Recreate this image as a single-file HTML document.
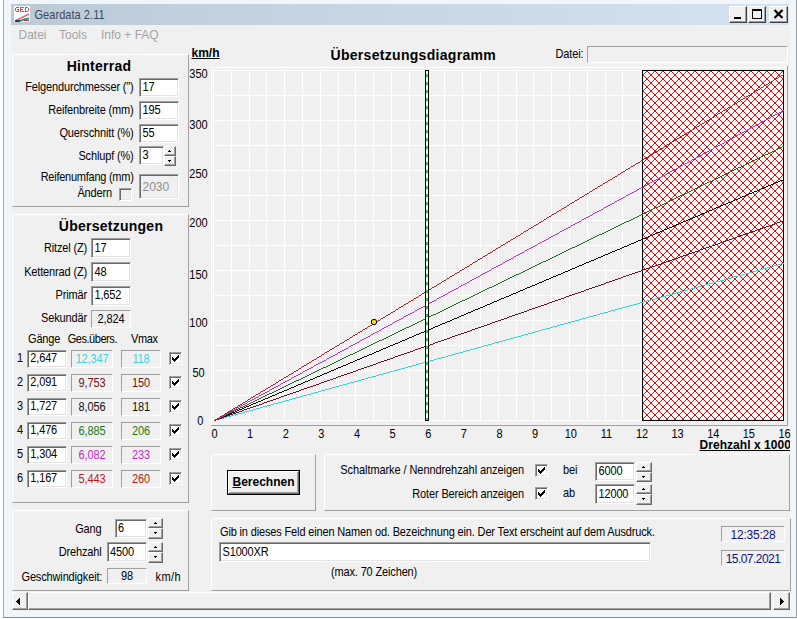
<!DOCTYPE html><html><head><meta charset="utf-8"><style>
html,body{margin:0;padding:0}
body{width:797px;height:619px;overflow:hidden;position:relative;background:#fcfdfe;font-family:'Liberation Sans', sans-serif}
</style></head><body>
<div style="position:absolute;left:3px;top:0px;width:794px;height:618px;background:#f1f6fb;box-sizing:border-box;border-left:1px solid #a8acb0;border-right:1px solid #9aa0a6;border-bottom:1px solid #8a8e92"></div>
<div style="position:absolute;left:11px;top:4px;width:778px;height:21px;background:linear-gradient(to right,#bccad8,#c9d7e5 50%,#d5e3f1)"></div>
<svg style="position:absolute;left:14px;top:6px" width="16" height="16" shape-rendering="crispEdges">
<rect width="16" height="16" fill="#fbfbfb"/>
<g fill="#cc5555"><rect x="2" y="1" width="1" height="1"/><rect x="3" y="1" width="1" height="1"/><rect x="4" y="1" width="1" height="1"/><rect x="1" y="2" width="1" height="1"/><rect x="1" y="3" width="1" height="1"/><rect x="3" y="3" width="1" height="1"/><rect x="4" y="3" width="1" height="1"/><rect x="1" y="4" width="1" height="1"/><rect x="4" y="4" width="1" height="1"/><rect x="2" y="5" width="1" height="1"/><rect x="3" y="5" width="1" height="1"/><rect x="4" y="5" width="1" height="1"/><rect x="6" y="1" width="1" height="1"/><rect x="7" y="1" width="1" height="1"/><rect x="8" y="1" width="1" height="1"/><rect x="9" y="1" width="1" height="1"/><rect x="6" y="2" width="1" height="1"/><rect x="6" y="3" width="1" height="1"/><rect x="7" y="3" width="1" height="1"/><rect x="8" y="3" width="1" height="1"/><rect x="6" y="4" width="1" height="1"/><rect x="6" y="5" width="1" height="1"/><rect x="7" y="5" width="1" height="1"/><rect x="8" y="5" width="1" height="1"/><rect x="9" y="5" width="1" height="1"/><rect x="11" y="1" width="1" height="1"/><rect x="12" y="1" width="1" height="1"/><rect x="13" y="1" width="1" height="1"/><rect x="11" y="2" width="1" height="1"/><rect x="14" y="2" width="1" height="1"/><rect x="11" y="3" width="1" height="1"/><rect x="14" y="3" width="1" height="1"/><rect x="11" y="4" width="1" height="1"/><rect x="14" y="4" width="1" height="1"/><rect x="11" y="5" width="1" height="1"/><rect x="12" y="5" width="1" height="1"/><rect x="13" y="5" width="1" height="1"/></g>
<g shape-rendering="auto"><path d="M2 14.5 L15 8" stroke="#e06a8a" stroke-width="1.6" fill="none"/>
<path d="M6 15 Q10 13 15 12.5" stroke="#3c8a5c" stroke-width="1.8" fill="none"/>
<path d="M1 15 L6 15" stroke="#111" stroke-width="1.6"/>
<path d="M10 14.5 L15 14.5" stroke="#a04858" stroke-width="1.2"/></g>
</svg>
<div style="position:absolute;left:34.5px;top:9.99px;font:11px 'Liberation Sans', sans-serif;line-height:11px;color:#3b4858;letter-spacing:0.05px;white-space:nowrap;transform:scaleY(1.08);transform-origin:0 9.31px;">Geardata 2.11</div>
<div style="position:absolute;left:729px;top:6px;width:18px;height:17px;background:#f0f0f0;box-sizing:border-box;border-top:1px solid #fff;border-left:1px solid #fff;border-bottom:1px solid #404040;border-right:1px solid #404040;box-shadow:inset -1px -1px 0 #a0a0a0"></div>
<div style="position:absolute;left:748px;top:6px;width:18px;height:17px;background:#f0f0f0;box-sizing:border-box;border-top:1px solid #fff;border-left:1px solid #fff;border-bottom:1px solid #404040;border-right:1px solid #404040;box-shadow:inset -1px -1px 0 #a0a0a0"></div>
<div style="position:absolute;left:769px;top:6px;width:19px;height:17px;background:#f0f0f0;box-sizing:border-box;border-top:1px solid #fff;border-left:1px solid #fff;border-bottom:1px solid #404040;border-right:1px solid #404040;box-shadow:inset -1px -1px 0 #a0a0a0"></div>
<div style="position:absolute;left:734px;top:17px;width:7px;height:2px;background:#000"></div>
<div style="position:absolute;left:752px;top:9px;width:10px;height:10px;box-sizing:border-box;border:1px solid #000;border-top-width:2px"></div>
<svg style="position:absolute;left:773px;top:9px" width="11" height="10"><path d="M1.5 1 L9.5 9 M9.5 1 L1.5 9" stroke="#000" stroke-width="2.2"/></svg>
<div style="position:absolute;left:11px;top:25px;width:779px;height:586px;background:#f0f0f0"></div>
<div style="position:absolute;left:18.5px;top:28.64px;font:12px 'Liberation Sans', sans-serif;line-height:12px;color:#a3a3a3;letter-spacing:0px;white-space:nowrap;">Datei</div>
<div style="position:absolute;left:59px;top:28.64px;font:12px 'Liberation Sans', sans-serif;line-height:12px;color:#a3a3a3;letter-spacing:0px;white-space:nowrap;">Tools</div>
<div style="position:absolute;left:101px;top:28.64px;font:12px 'Liberation Sans', sans-serif;line-height:12px;color:#a3a3a3;letter-spacing:0px;white-space:nowrap;">Info + FAQ</div>
<div style="position:absolute;left:12px;top:54px;width:177px;height:153px;background:#f0f0f0;box-sizing:border-box;border-top:1px solid #fff;border-left:1px solid #fff;border-bottom:1px solid #a0a0a0;border-right:1px solid #a0a0a0"></div>
<div style="position:absolute;left:-101px;width:400px;text-align:center;top:58.85px;font:bold 14px 'Liberation Sans', sans-serif;line-height:14px;color:#000;letter-spacing:0.25px;white-space:nowrap;">Hinterrad</div>
<div style="position:absolute;right:663.4px;top:82.19px;font:11px 'Liberation Sans', sans-serif;line-height:11px;color:#000;letter-spacing:-0.15px;white-space:nowrap;transform:scaleY(1.1);transform-origin:0 9.31px;">Felgendurchmesser (&quot;)</div>
<div style="position:absolute;left:139px;top:78px;width:40px;height:19px;background:#fff;box-sizing:border-box;border-top:1px solid #a0a0a0;border-left:1px solid #a0a0a0;border-bottom:1px solid #fff;border-right:1px solid #fff;box-shadow:inset 1px 1px 0 #696969,inset -1px -1px 0 #e3e3e3"></div>
<div style="position:absolute;left:142.5px;top:82.19px;font:11px 'Liberation Sans', sans-serif;line-height:11px;color:#000;letter-spacing:-0.15px;white-space:nowrap;transform:scaleY(1.1);transform-origin:0 9.31px;">17</div>
<div style="position:absolute;right:663.4px;top:105.19px;font:11px 'Liberation Sans', sans-serif;line-height:11px;color:#000;letter-spacing:-0.15px;white-space:nowrap;transform:scaleY(1.1);transform-origin:0 9.31px;">Reifenbreite (mm)</div>
<div style="position:absolute;left:139px;top:101px;width:40px;height:19px;background:#fff;box-sizing:border-box;border-top:1px solid #a0a0a0;border-left:1px solid #a0a0a0;border-bottom:1px solid #fff;border-right:1px solid #fff;box-shadow:inset 1px 1px 0 #696969,inset -1px -1px 0 #e3e3e3"></div>
<div style="position:absolute;left:142.5px;top:105.19px;font:11px 'Liberation Sans', sans-serif;line-height:11px;color:#000;letter-spacing:-0.15px;white-space:nowrap;transform:scaleY(1.1);transform-origin:0 9.31px;">195</div>
<div style="position:absolute;right:663.4px;top:128.19px;font:11px 'Liberation Sans', sans-serif;line-height:11px;color:#000;letter-spacing:-0.15px;white-space:nowrap;transform:scaleY(1.1);transform-origin:0 9.31px;">Querschnitt (%)</div>
<div style="position:absolute;left:139px;top:124px;width:40px;height:19px;background:#fff;box-sizing:border-box;border-top:1px solid #a0a0a0;border-left:1px solid #a0a0a0;border-bottom:1px solid #fff;border-right:1px solid #fff;box-shadow:inset 1px 1px 0 #696969,inset -1px -1px 0 #e3e3e3"></div>
<div style="position:absolute;left:142.5px;top:128.19px;font:11px 'Liberation Sans', sans-serif;line-height:11px;color:#000;letter-spacing:-0.15px;white-space:nowrap;transform:scaleY(1.1);transform-origin:0 9.31px;">55</div>
<div style="position:absolute;right:663.4px;top:151.49px;font:11px 'Liberation Sans', sans-serif;line-height:11px;color:#000;letter-spacing:-0.15px;white-space:nowrap;transform:scaleY(1.1);transform-origin:0 9.31px;">Schlupf (%)</div>
<div style="position:absolute;left:139px;top:146px;width:25px;height:19px;background:#fff;box-sizing:border-box;border-top:1px solid #a0a0a0;border-left:1px solid #a0a0a0;border-bottom:1px solid #fff;border-right:1px solid #fff;box-shadow:inset 1px 1px 0 #696969,inset -1px -1px 0 #e3e3e3"></div>
<div style="position:absolute;left:142.5px;top:150.19px;font:11px 'Liberation Sans', sans-serif;line-height:11px;color:#000;letter-spacing:-0.15px;white-space:nowrap;transform:scaleY(1.1);transform-origin:0 9.31px;">3</div>
<div style="position:absolute;left:164px;top:146px;width:12px;height:10px;background:#f0f0f0;box-sizing:border-box;border-top:1px solid #fff;border-left:1px solid #fff;border-bottom:1px solid #696969;border-right:1px solid #696969;box-shadow:inset -1px -1px 0 #a0a0a0"></div>
<div style="position:absolute;left:164px;top:156px;width:12px;height:10px;background:#f0f0f0;box-sizing:border-box;border-top:1px solid #fff;border-left:1px solid #fff;border-bottom:1px solid #696969;border-right:1px solid #696969;box-shadow:inset -1px -1px 0 #a0a0a0"></div>
<svg style="position:absolute;left:168px;top:150px" width="3" height="2" shape-rendering="crispEdges"><path d="M1 0h1v1h1v1H0V1h1z" fill="#000"/></svg>
<svg style="position:absolute;left:168px;top:160px" width="3" height="2" shape-rendering="crispEdges"><path d="M0 0h3v1h-1v1H1V1H0z" fill="#000"/></svg>
<div style="position:absolute;right:663.4px;top:172.49px;font:11px 'Liberation Sans', sans-serif;line-height:11px;color:#000;letter-spacing:-0.25px;white-space:nowrap;transform:scaleY(1.1);transform-origin:0 9.31px;">Reifenumfang (mm)</div>
<div style="position:absolute;right:685px;top:188.39px;font:11px 'Liberation Sans', sans-serif;line-height:11px;color:#000;letter-spacing:-0.15px;white-space:nowrap;transform:scaleY(1.1);transform-origin:0 9.31px;">&Auml;ndern</div>
<div style="position:absolute;left:119px;top:188px;width:13px;height:13px;background:#f0f0f0;box-sizing:border-box;border-top:1px solid #a0a0a0;border-left:1px solid #a0a0a0;border-bottom:1px solid #fff;border-right:1px solid #fff;box-shadow:inset 1px 1px 0 #696969,inset -1px -1px 0 #e3e3e3"></div>
<div style="position:absolute;left:139px;top:174px;width:40px;height:25px;background:#f0f0f0;box-sizing:border-box;border-top:1px solid #a0a0a0;border-left:1px solid #a0a0a0;border-bottom:1px solid #fff;border-right:1px solid #fff;box-shadow:inset 1px 1px 0 #696969,inset -1px -1px 0 #e3e3e3"></div>
<div style="position:absolute;left:142.5px;top:180.84px;font:12px 'Liberation Sans', sans-serif;line-height:12px;color:#8d8d8d;letter-spacing:0px;white-space:nowrap;">2030</div>
<div style="position:absolute;left:12px;top:214px;width:177px;height:289px;background:#f0f0f0;box-sizing:border-box;border-top:1px solid #fff;border-left:1px solid #fff;border-bottom:1px solid #a0a0a0;border-right:1px solid #a0a0a0"></div>
<div style="position:absolute;left:-89px;width:400px;text-align:center;top:218.85px;font:bold 14px 'Liberation Sans', sans-serif;line-height:14px;color:#000;letter-spacing:0.25px;white-space:nowrap;">&Uuml;bersetzungen</div>
<div style="position:absolute;right:710px;top:243.19px;font:11px 'Liberation Sans', sans-serif;line-height:11px;color:#000;letter-spacing:-0.15px;white-space:nowrap;transform:scaleY(1.1);transform-origin:0 9.31px;">Ritzel (Z)</div>
<div style="position:absolute;left:91px;top:238px;width:40px;height:20px;background:#fff;box-sizing:border-box;border-top:1px solid #a0a0a0;border-left:1px solid #a0a0a0;border-bottom:1px solid #fff;border-right:1px solid #fff;box-shadow:inset 1px 1px 0 #696969,inset -1px -1px 0 #e3e3e3"></div>
<div style="position:absolute;left:94.5px;top:243.19px;font:11px 'Liberation Sans', sans-serif;line-height:11px;color:#000;letter-spacing:-0.15px;white-space:nowrap;transform:scaleY(1.1);transform-origin:0 9.31px;">17</div>
<div style="position:absolute;right:710px;top:267.19px;font:11px 'Liberation Sans', sans-serif;line-height:11px;color:#000;letter-spacing:-0.15px;white-space:nowrap;transform:scaleY(1.1);transform-origin:0 9.31px;">Kettenrad (Z)</div>
<div style="position:absolute;left:91px;top:262px;width:40px;height:20px;background:#fff;box-sizing:border-box;border-top:1px solid #a0a0a0;border-left:1px solid #a0a0a0;border-bottom:1px solid #fff;border-right:1px solid #fff;box-shadow:inset 1px 1px 0 #696969,inset -1px -1px 0 #e3e3e3"></div>
<div style="position:absolute;left:94.5px;top:267.19px;font:11px 'Liberation Sans', sans-serif;line-height:11px;color:#000;letter-spacing:-0.15px;white-space:nowrap;transform:scaleY(1.1);transform-origin:0 9.31px;">48</div>
<div style="position:absolute;right:710px;top:290.19px;font:11px 'Liberation Sans', sans-serif;line-height:11px;color:#000;letter-spacing:-0.15px;white-space:nowrap;transform:scaleY(1.1);transform-origin:0 9.31px;">Prim&auml;r</div>
<div style="position:absolute;left:91px;top:286px;width:40px;height:20px;background:#fff;box-sizing:border-box;border-top:1px solid #a0a0a0;border-left:1px solid #a0a0a0;border-bottom:1px solid #fff;border-right:1px solid #fff;box-shadow:inset 1px 1px 0 #696969,inset -1px -1px 0 #e3e3e3"></div>
<div style="position:absolute;left:94.5px;top:290.19px;font:11px 'Liberation Sans', sans-serif;line-height:11px;color:#000;letter-spacing:-0.15px;white-space:nowrap;transform:scaleY(1.1);transform-origin:0 9.31px;">1,652</div>
<div style="position:absolute;right:710px;top:312.69px;font:11px 'Liberation Sans', sans-serif;line-height:11px;color:#000;letter-spacing:-0.15px;white-space:nowrap;transform:scaleY(1.1);transform-origin:0 9.31px;">Sekund&auml;r</div>
<div style="position:absolute;left:91px;top:310px;width:40px;height:18px;background:#f0f0f0;box-sizing:border-box;border-top:1px solid #a0a0a0;border-left:1px solid #a0a0a0;border-bottom:1px solid #fff;border-right:1px solid #fff"></div>
<div style="position:absolute;left:-89px;width:400px;text-align:center;top:313.69px;font:11px 'Liberation Sans', sans-serif;line-height:11px;color:#000;letter-spacing:-0.15px;white-space:nowrap;transform:scaleY(1.1);transform-origin:0 9.31px;">2,824</div>
<div style="position:absolute;left:28px;top:333.69px;font:11px 'Liberation Sans', sans-serif;line-height:11px;color:#000;letter-spacing:-0.15px;white-space:nowrap;transform:scaleY(1.1);transform-origin:0 9.31px;">G&auml;nge</div>
<div style="position:absolute;left:67.7px;top:333.69px;font:11px 'Liberation Sans', sans-serif;line-height:11px;color:#000;letter-spacing:-0.45px;white-space:nowrap;transform:scaleY(1.1);transform-origin:0 9.31px;">Ges.&uuml;bers.</div>
<div style="position:absolute;left:131px;top:333.69px;font:11px 'Liberation Sans', sans-serif;line-height:11px;color:#000;letter-spacing:-0.35px;white-space:nowrap;transform:scaleY(1.1);transform-origin:0 9.31px;">Vmax</div>
<div style="position:absolute;right:774px;top:353.19px;font:11px 'Liberation Sans', sans-serif;line-height:11px;color:#000;letter-spacing:0px;white-space:nowrap;transform:scaleY(1.1);transform-origin:0 9.31px;">1</div>
<div style="position:absolute;left:27px;top:350px;width:40px;height:18px;background:#fff;box-sizing:border-box;border-top:1px solid #a0a0a0;border-left:1px solid #a0a0a0;border-bottom:1px solid #fff;border-right:1px solid #fff;box-shadow:inset 1px 1px 0 #696969,inset -1px -1px 0 #e3e3e3"></div>
<div style="position:absolute;left:30.3px;top:353.19px;font:11px 'Liberation Sans', sans-serif;line-height:11px;color:#000;letter-spacing:-0.15px;white-space:nowrap;transform:scaleY(1.1);transform-origin:0 9.31px;">2,647</div>
<div style="position:absolute;left:71px;top:350px;width:42px;height:18px;background:#f0f0f0;box-sizing:border-box;border-top:1px solid #a0a0a0;border-left:1px solid #a0a0a0;border-bottom:1px solid #fff;border-right:1px solid #fff"></div>
<div style="position:absolute;left:-108px;width:400px;text-align:center;top:353.69px;font:11px 'Liberation Sans', sans-serif;line-height:11px;color:#3cd6dc;letter-spacing:-0.15px;white-space:nowrap;transform:scaleY(1.1);transform-origin:0 9.31px;">12,347</div>
<div style="position:absolute;left:121px;top:350px;width:40px;height:18px;background:#f0f0f0;box-sizing:border-box;border-top:1px solid #a0a0a0;border-left:1px solid #a0a0a0;border-bottom:1px solid #fff;border-right:1px solid #fff"></div>
<div style="position:absolute;left:-59px;width:400px;text-align:center;top:353.69px;font:11px 'Liberation Sans', sans-serif;line-height:11px;color:#3cd6dc;letter-spacing:-0.15px;white-space:nowrap;transform:scaleY(1.1);transform-origin:0 9.31px;">118</div>
<div style="position:absolute;left:169px;top:352px;width:13px;height:13px;background:#fff;box-sizing:border-box;border-top:1px solid #a0a0a0;border-left:1px solid #a0a0a0;border-bottom:1px solid #fff;border-right:1px solid #fff;box-shadow:inset 1px 1px 0 #696969,inset -1px -1px 0 #e3e3e3"></div>
<svg style="position:absolute;left:172px;top:355px" width="7" height="7" fill="#000" shape-rendering="crispEdges"><rect x="6" y="0" width="1" height="1"/><rect x="5" y="1" width="1" height="1"/><rect x="6" y="1" width="1" height="1"/><rect x="0" y="2" width="1" height="1"/><rect x="4" y="2" width="1" height="1"/><rect x="5" y="2" width="1" height="1"/><rect x="6" y="2" width="1" height="1"/><rect x="0" y="3" width="1" height="1"/><rect x="1" y="3" width="1" height="1"/><rect x="3" y="3" width="1" height="1"/><rect x="4" y="3" width="1" height="1"/><rect x="5" y="3" width="1" height="1"/><rect x="0" y="4" width="1" height="1"/><rect x="1" y="4" width="1" height="1"/><rect x="2" y="4" width="1" height="1"/><rect x="3" y="4" width="1" height="1"/><rect x="4" y="4" width="1" height="1"/><rect x="1" y="5" width="1" height="1"/><rect x="2" y="5" width="1" height="1"/><rect x="3" y="5" width="1" height="1"/><rect x="2" y="6" width="1" height="1"/></svg>
<div style="position:absolute;right:774px;top:377.19px;font:11px 'Liberation Sans', sans-serif;line-height:11px;color:#000;letter-spacing:0px;white-space:nowrap;transform:scaleY(1.1);transform-origin:0 9.31px;">2</div>
<div style="position:absolute;left:27px;top:374px;width:40px;height:18px;background:#fff;box-sizing:border-box;border-top:1px solid #a0a0a0;border-left:1px solid #a0a0a0;border-bottom:1px solid #fff;border-right:1px solid #fff;box-shadow:inset 1px 1px 0 #696969,inset -1px -1px 0 #e3e3e3"></div>
<div style="position:absolute;left:30.3px;top:377.19px;font:11px 'Liberation Sans', sans-serif;line-height:11px;color:#000;letter-spacing:-0.15px;white-space:nowrap;transform:scaleY(1.1);transform-origin:0 9.31px;">2,091</div>
<div style="position:absolute;left:71px;top:374px;width:42px;height:18px;background:#f0f0f0;box-sizing:border-box;border-top:1px solid #a0a0a0;border-left:1px solid #a0a0a0;border-bottom:1px solid #fff;border-right:1px solid #fff"></div>
<div style="position:absolute;left:-108px;width:400px;text-align:center;top:377.69px;font:11px 'Liberation Sans', sans-serif;line-height:11px;color:#6e1414;letter-spacing:-0.15px;white-space:nowrap;transform:scaleY(1.1);transform-origin:0 9.31px;">9,753</div>
<div style="position:absolute;left:121px;top:374px;width:40px;height:18px;background:#f0f0f0;box-sizing:border-box;border-top:1px solid #a0a0a0;border-left:1px solid #a0a0a0;border-bottom:1px solid #fff;border-right:1px solid #fff"></div>
<div style="position:absolute;left:-59px;width:400px;text-align:center;top:377.69px;font:11px 'Liberation Sans', sans-serif;line-height:11px;color:#6e1414;letter-spacing:-0.15px;white-space:nowrap;transform:scaleY(1.1);transform-origin:0 9.31px;">150</div>
<div style="position:absolute;left:169px;top:376px;width:13px;height:13px;background:#fff;box-sizing:border-box;border-top:1px solid #a0a0a0;border-left:1px solid #a0a0a0;border-bottom:1px solid #fff;border-right:1px solid #fff;box-shadow:inset 1px 1px 0 #696969,inset -1px -1px 0 #e3e3e3"></div>
<svg style="position:absolute;left:172px;top:379px" width="7" height="7" fill="#000" shape-rendering="crispEdges"><rect x="6" y="0" width="1" height="1"/><rect x="5" y="1" width="1" height="1"/><rect x="6" y="1" width="1" height="1"/><rect x="0" y="2" width="1" height="1"/><rect x="4" y="2" width="1" height="1"/><rect x="5" y="2" width="1" height="1"/><rect x="6" y="2" width="1" height="1"/><rect x="0" y="3" width="1" height="1"/><rect x="1" y="3" width="1" height="1"/><rect x="3" y="3" width="1" height="1"/><rect x="4" y="3" width="1" height="1"/><rect x="5" y="3" width="1" height="1"/><rect x="0" y="4" width="1" height="1"/><rect x="1" y="4" width="1" height="1"/><rect x="2" y="4" width="1" height="1"/><rect x="3" y="4" width="1" height="1"/><rect x="4" y="4" width="1" height="1"/><rect x="1" y="5" width="1" height="1"/><rect x="2" y="5" width="1" height="1"/><rect x="3" y="5" width="1" height="1"/><rect x="2" y="6" width="1" height="1"/></svg>
<div style="position:absolute;right:774px;top:401.19px;font:11px 'Liberation Sans', sans-serif;line-height:11px;color:#000;letter-spacing:0px;white-space:nowrap;transform:scaleY(1.1);transform-origin:0 9.31px;">3</div>
<div style="position:absolute;left:27px;top:398px;width:40px;height:18px;background:#fff;box-sizing:border-box;border-top:1px solid #a0a0a0;border-left:1px solid #a0a0a0;border-bottom:1px solid #fff;border-right:1px solid #fff;box-shadow:inset 1px 1px 0 #696969,inset -1px -1px 0 #e3e3e3"></div>
<div style="position:absolute;left:30.3px;top:401.19px;font:11px 'Liberation Sans', sans-serif;line-height:11px;color:#000;letter-spacing:-0.15px;white-space:nowrap;transform:scaleY(1.1);transform-origin:0 9.31px;">1,727</div>
<div style="position:absolute;left:71px;top:398px;width:42px;height:18px;background:#f0f0f0;box-sizing:border-box;border-top:1px solid #a0a0a0;border-left:1px solid #a0a0a0;border-bottom:1px solid #fff;border-right:1px solid #fff"></div>
<div style="position:absolute;left:-108px;width:400px;text-align:center;top:401.69px;font:11px 'Liberation Sans', sans-serif;line-height:11px;color:#141414;letter-spacing:-0.15px;white-space:nowrap;transform:scaleY(1.1);transform-origin:0 9.31px;">8,056</div>
<div style="position:absolute;left:121px;top:398px;width:40px;height:18px;background:#f0f0f0;box-sizing:border-box;border-top:1px solid #a0a0a0;border-left:1px solid #a0a0a0;border-bottom:1px solid #fff;border-right:1px solid #fff"></div>
<div style="position:absolute;left:-59px;width:400px;text-align:center;top:401.69px;font:11px 'Liberation Sans', sans-serif;line-height:11px;color:#141414;letter-spacing:-0.15px;white-space:nowrap;transform:scaleY(1.1);transform-origin:0 9.31px;">181</div>
<div style="position:absolute;left:169px;top:400px;width:13px;height:13px;background:#fff;box-sizing:border-box;border-top:1px solid #a0a0a0;border-left:1px solid #a0a0a0;border-bottom:1px solid #fff;border-right:1px solid #fff;box-shadow:inset 1px 1px 0 #696969,inset -1px -1px 0 #e3e3e3"></div>
<svg style="position:absolute;left:172px;top:403px" width="7" height="7" fill="#000" shape-rendering="crispEdges"><rect x="6" y="0" width="1" height="1"/><rect x="5" y="1" width="1" height="1"/><rect x="6" y="1" width="1" height="1"/><rect x="0" y="2" width="1" height="1"/><rect x="4" y="2" width="1" height="1"/><rect x="5" y="2" width="1" height="1"/><rect x="6" y="2" width="1" height="1"/><rect x="0" y="3" width="1" height="1"/><rect x="1" y="3" width="1" height="1"/><rect x="3" y="3" width="1" height="1"/><rect x="4" y="3" width="1" height="1"/><rect x="5" y="3" width="1" height="1"/><rect x="0" y="4" width="1" height="1"/><rect x="1" y="4" width="1" height="1"/><rect x="2" y="4" width="1" height="1"/><rect x="3" y="4" width="1" height="1"/><rect x="4" y="4" width="1" height="1"/><rect x="1" y="5" width="1" height="1"/><rect x="2" y="5" width="1" height="1"/><rect x="3" y="5" width="1" height="1"/><rect x="2" y="6" width="1" height="1"/></svg>
<div style="position:absolute;right:774px;top:425.19px;font:11px 'Liberation Sans', sans-serif;line-height:11px;color:#000;letter-spacing:0px;white-space:nowrap;transform:scaleY(1.1);transform-origin:0 9.31px;">4</div>
<div style="position:absolute;left:27px;top:422px;width:40px;height:18px;background:#fff;box-sizing:border-box;border-top:1px solid #a0a0a0;border-left:1px solid #a0a0a0;border-bottom:1px solid #fff;border-right:1px solid #fff;box-shadow:inset 1px 1px 0 #696969,inset -1px -1px 0 #e3e3e3"></div>
<div style="position:absolute;left:30.3px;top:425.19px;font:11px 'Liberation Sans', sans-serif;line-height:11px;color:#000;letter-spacing:-0.15px;white-space:nowrap;transform:scaleY(1.1);transform-origin:0 9.31px;">1,476</div>
<div style="position:absolute;left:71px;top:422px;width:42px;height:18px;background:#f0f0f0;box-sizing:border-box;border-top:1px solid #a0a0a0;border-left:1px solid #a0a0a0;border-bottom:1px solid #fff;border-right:1px solid #fff"></div>
<div style="position:absolute;left:-108px;width:400px;text-align:center;top:425.69px;font:11px 'Liberation Sans', sans-serif;line-height:11px;color:#1a7a1a;letter-spacing:-0.15px;white-space:nowrap;transform:scaleY(1.1);transform-origin:0 9.31px;">6,885</div>
<div style="position:absolute;left:121px;top:422px;width:40px;height:18px;background:#f0f0f0;box-sizing:border-box;border-top:1px solid #a0a0a0;border-left:1px solid #a0a0a0;border-bottom:1px solid #fff;border-right:1px solid #fff"></div>
<div style="position:absolute;left:-59px;width:400px;text-align:center;top:425.69px;font:11px 'Liberation Sans', sans-serif;line-height:11px;color:#1a7a1a;letter-spacing:-0.15px;white-space:nowrap;transform:scaleY(1.1);transform-origin:0 9.31px;">206</div>
<div style="position:absolute;left:169px;top:424px;width:13px;height:13px;background:#fff;box-sizing:border-box;border-top:1px solid #a0a0a0;border-left:1px solid #a0a0a0;border-bottom:1px solid #fff;border-right:1px solid #fff;box-shadow:inset 1px 1px 0 #696969,inset -1px -1px 0 #e3e3e3"></div>
<svg style="position:absolute;left:172px;top:427px" width="7" height="7" fill="#000" shape-rendering="crispEdges"><rect x="6" y="0" width="1" height="1"/><rect x="5" y="1" width="1" height="1"/><rect x="6" y="1" width="1" height="1"/><rect x="0" y="2" width="1" height="1"/><rect x="4" y="2" width="1" height="1"/><rect x="5" y="2" width="1" height="1"/><rect x="6" y="2" width="1" height="1"/><rect x="0" y="3" width="1" height="1"/><rect x="1" y="3" width="1" height="1"/><rect x="3" y="3" width="1" height="1"/><rect x="4" y="3" width="1" height="1"/><rect x="5" y="3" width="1" height="1"/><rect x="0" y="4" width="1" height="1"/><rect x="1" y="4" width="1" height="1"/><rect x="2" y="4" width="1" height="1"/><rect x="3" y="4" width="1" height="1"/><rect x="4" y="4" width="1" height="1"/><rect x="1" y="5" width="1" height="1"/><rect x="2" y="5" width="1" height="1"/><rect x="3" y="5" width="1" height="1"/><rect x="2" y="6" width="1" height="1"/></svg>
<div style="position:absolute;right:774px;top:449.19px;font:11px 'Liberation Sans', sans-serif;line-height:11px;color:#000;letter-spacing:0px;white-space:nowrap;transform:scaleY(1.1);transform-origin:0 9.31px;">5</div>
<div style="position:absolute;left:27px;top:446px;width:40px;height:18px;background:#fff;box-sizing:border-box;border-top:1px solid #a0a0a0;border-left:1px solid #a0a0a0;border-bottom:1px solid #fff;border-right:1px solid #fff;box-shadow:inset 1px 1px 0 #696969,inset -1px -1px 0 #e3e3e3"></div>
<div style="position:absolute;left:30.3px;top:449.19px;font:11px 'Liberation Sans', sans-serif;line-height:11px;color:#000;letter-spacing:-0.15px;white-space:nowrap;transform:scaleY(1.1);transform-origin:0 9.31px;">1,304</div>
<div style="position:absolute;left:71px;top:446px;width:42px;height:18px;background:#f0f0f0;box-sizing:border-box;border-top:1px solid #a0a0a0;border-left:1px solid #a0a0a0;border-bottom:1px solid #fff;border-right:1px solid #fff"></div>
<div style="position:absolute;left:-108px;width:400px;text-align:center;top:449.69px;font:11px 'Liberation Sans', sans-serif;line-height:11px;color:#c42cc8;letter-spacing:-0.15px;white-space:nowrap;transform:scaleY(1.1);transform-origin:0 9.31px;">6,082</div>
<div style="position:absolute;left:121px;top:446px;width:40px;height:18px;background:#f0f0f0;box-sizing:border-box;border-top:1px solid #a0a0a0;border-left:1px solid #a0a0a0;border-bottom:1px solid #fff;border-right:1px solid #fff"></div>
<div style="position:absolute;left:-59px;width:400px;text-align:center;top:449.69px;font:11px 'Liberation Sans', sans-serif;line-height:11px;color:#c42cc8;letter-spacing:-0.15px;white-space:nowrap;transform:scaleY(1.1);transform-origin:0 9.31px;">233</div>
<div style="position:absolute;left:169px;top:448px;width:13px;height:13px;background:#fff;box-sizing:border-box;border-top:1px solid #a0a0a0;border-left:1px solid #a0a0a0;border-bottom:1px solid #fff;border-right:1px solid #fff;box-shadow:inset 1px 1px 0 #696969,inset -1px -1px 0 #e3e3e3"></div>
<svg style="position:absolute;left:172px;top:451px" width="7" height="7" fill="#000" shape-rendering="crispEdges"><rect x="6" y="0" width="1" height="1"/><rect x="5" y="1" width="1" height="1"/><rect x="6" y="1" width="1" height="1"/><rect x="0" y="2" width="1" height="1"/><rect x="4" y="2" width="1" height="1"/><rect x="5" y="2" width="1" height="1"/><rect x="6" y="2" width="1" height="1"/><rect x="0" y="3" width="1" height="1"/><rect x="1" y="3" width="1" height="1"/><rect x="3" y="3" width="1" height="1"/><rect x="4" y="3" width="1" height="1"/><rect x="5" y="3" width="1" height="1"/><rect x="0" y="4" width="1" height="1"/><rect x="1" y="4" width="1" height="1"/><rect x="2" y="4" width="1" height="1"/><rect x="3" y="4" width="1" height="1"/><rect x="4" y="4" width="1" height="1"/><rect x="1" y="5" width="1" height="1"/><rect x="2" y="5" width="1" height="1"/><rect x="3" y="5" width="1" height="1"/><rect x="2" y="6" width="1" height="1"/></svg>
<div style="position:absolute;right:774px;top:473.19px;font:11px 'Liberation Sans', sans-serif;line-height:11px;color:#000;letter-spacing:0px;white-space:nowrap;transform:scaleY(1.1);transform-origin:0 9.31px;">6</div>
<div style="position:absolute;left:27px;top:470px;width:40px;height:18px;background:#fff;box-sizing:border-box;border-top:1px solid #a0a0a0;border-left:1px solid #a0a0a0;border-bottom:1px solid #fff;border-right:1px solid #fff;box-shadow:inset 1px 1px 0 #696969,inset -1px -1px 0 #e3e3e3"></div>
<div style="position:absolute;left:30.3px;top:473.19px;font:11px 'Liberation Sans', sans-serif;line-height:11px;color:#000;letter-spacing:-0.15px;white-space:nowrap;transform:scaleY(1.1);transform-origin:0 9.31px;">1,167</div>
<div style="position:absolute;left:71px;top:470px;width:42px;height:18px;background:#f0f0f0;box-sizing:border-box;border-top:1px solid #a0a0a0;border-left:1px solid #a0a0a0;border-bottom:1px solid #fff;border-right:1px solid #fff"></div>
<div style="position:absolute;left:-108px;width:400px;text-align:center;top:473.69px;font:11px 'Liberation Sans', sans-serif;line-height:11px;color:#c01818;letter-spacing:-0.15px;white-space:nowrap;transform:scaleY(1.1);transform-origin:0 9.31px;">5,443</div>
<div style="position:absolute;left:121px;top:470px;width:40px;height:18px;background:#f0f0f0;box-sizing:border-box;border-top:1px solid #a0a0a0;border-left:1px solid #a0a0a0;border-bottom:1px solid #fff;border-right:1px solid #fff"></div>
<div style="position:absolute;left:-59px;width:400px;text-align:center;top:473.69px;font:11px 'Liberation Sans', sans-serif;line-height:11px;color:#c01818;letter-spacing:-0.15px;white-space:nowrap;transform:scaleY(1.1);transform-origin:0 9.31px;">260</div>
<div style="position:absolute;left:169px;top:472px;width:13px;height:13px;background:#fff;box-sizing:border-box;border-top:1px solid #a0a0a0;border-left:1px solid #a0a0a0;border-bottom:1px solid #fff;border-right:1px solid #fff;box-shadow:inset 1px 1px 0 #696969,inset -1px -1px 0 #e3e3e3"></div>
<svg style="position:absolute;left:172px;top:475px" width="7" height="7" fill="#000" shape-rendering="crispEdges"><rect x="6" y="0" width="1" height="1"/><rect x="5" y="1" width="1" height="1"/><rect x="6" y="1" width="1" height="1"/><rect x="0" y="2" width="1" height="1"/><rect x="4" y="2" width="1" height="1"/><rect x="5" y="2" width="1" height="1"/><rect x="6" y="2" width="1" height="1"/><rect x="0" y="3" width="1" height="1"/><rect x="1" y="3" width="1" height="1"/><rect x="3" y="3" width="1" height="1"/><rect x="4" y="3" width="1" height="1"/><rect x="5" y="3" width="1" height="1"/><rect x="0" y="4" width="1" height="1"/><rect x="1" y="4" width="1" height="1"/><rect x="2" y="4" width="1" height="1"/><rect x="3" y="4" width="1" height="1"/><rect x="4" y="4" width="1" height="1"/><rect x="1" y="5" width="1" height="1"/><rect x="2" y="5" width="1" height="1"/><rect x="3" y="5" width="1" height="1"/><rect x="2" y="6" width="1" height="1"/></svg>
<div style="position:absolute;left:12px;top:510px;width:177px;height:81px;background:#f0f0f0;box-sizing:border-box;border-top:1px solid #fff;border-left:1px solid #fff;border-bottom:1px solid #a0a0a0;border-right:1px solid #a0a0a0"></div>
<div style="position:absolute;right:695.5px;top:523.69px;font:11px 'Liberation Sans', sans-serif;line-height:11px;color:#000;letter-spacing:-0.15px;white-space:nowrap;transform:scaleY(1.1);transform-origin:0 9.31px;">Gang</div>
<div style="position:absolute;left:115px;top:519px;width:32px;height:19px;background:#fff;box-sizing:border-box;border-top:1px solid #a0a0a0;border-left:1px solid #a0a0a0;border-bottom:1px solid #fff;border-right:1px solid #fff;box-shadow:inset 1px 1px 0 #696969,inset -1px -1px 0 #e3e3e3"></div>
<div style="position:absolute;left:118px;top:523.19px;font:11px 'Liberation Sans', sans-serif;line-height:11px;color:#000;letter-spacing:-0.15px;white-space:nowrap;transform:scaleY(1.1);transform-origin:0 9.31px;">6</div>
<div style="position:absolute;left:148px;top:518px;width:15px;height:10px;background:#f0f0f0;box-sizing:border-box;border-top:1px solid #fff;border-left:1px solid #fff;border-bottom:1px solid #696969;border-right:1px solid #696969;box-shadow:inset -1px -1px 0 #a0a0a0"></div>
<div style="position:absolute;left:148px;top:528px;width:15px;height:11px;background:#f0f0f0;box-sizing:border-box;border-top:1px solid #fff;border-left:1px solid #fff;border-bottom:1px solid #696969;border-right:1px solid #696969;box-shadow:inset -1px -1px 0 #a0a0a0"></div>
<svg style="position:absolute;left:154px;top:522px" width="3" height="2" shape-rendering="crispEdges"><path d="M1 0h1v1h1v1H0V1h1z" fill="#000"/></svg>
<svg style="position:absolute;left:154px;top:532px" width="3" height="2" shape-rendering="crispEdges"><path d="M0 0h3v1h-1v1H1V1H0z" fill="#000"/></svg>
<div style="position:absolute;right:695.5px;top:546.69px;font:11px 'Liberation Sans', sans-serif;line-height:11px;color:#000;letter-spacing:-0.15px;white-space:nowrap;transform:scaleY(1.1);transform-origin:0 9.31px;">Drehzahl</div>
<div style="position:absolute;left:107px;top:542px;width:40px;height:20px;background:#fff;box-sizing:border-box;border-top:1px solid #a0a0a0;border-left:1px solid #a0a0a0;border-bottom:1px solid #fff;border-right:1px solid #fff;box-shadow:inset 1px 1px 0 #696969,inset -1px -1px 0 #e3e3e3"></div>
<div style="position:absolute;left:110px;top:546.69px;font:11px 'Liberation Sans', sans-serif;line-height:11px;color:#000;letter-spacing:-0.15px;white-space:nowrap;transform:scaleY(1.1);transform-origin:0 9.31px;">4500</div>
<div style="position:absolute;left:148px;top:542px;width:15px;height:10px;background:#f0f0f0;box-sizing:border-box;border-top:1px solid #fff;border-left:1px solid #fff;border-bottom:1px solid #696969;border-right:1px solid #696969;box-shadow:inset -1px -1px 0 #a0a0a0"></div>
<div style="position:absolute;left:148px;top:552px;width:15px;height:11px;background:#f0f0f0;box-sizing:border-box;border-top:1px solid #fff;border-left:1px solid #fff;border-bottom:1px solid #696969;border-right:1px solid #696969;box-shadow:inset -1px -1px 0 #a0a0a0"></div>
<svg style="position:absolute;left:154px;top:546px" width="3" height="2" shape-rendering="crispEdges"><path d="M1 0h1v1h1v1H0V1h1z" fill="#000"/></svg>
<svg style="position:absolute;left:154px;top:556px" width="3" height="2" shape-rendering="crispEdges"><path d="M0 0h3v1h-1v1H1V1H0z" fill="#000"/></svg>
<div style="position:absolute;left:21.5px;top:571.69px;font:11px 'Liberation Sans', sans-serif;line-height:11px;color:#000;letter-spacing:-0.15px;white-space:nowrap;transform:scaleY(1.1);transform-origin:0 9.31px;">Geschwindigkeit:</div>
<div style="position:absolute;left:107px;top:568px;width:40px;height:16px;background:#f0f0f0;box-sizing:border-box;border-top:1px solid #a0a0a0;border-left:1px solid #a0a0a0;border-bottom:1px solid #fff;border-right:1px solid #fff"></div>
<div style="position:absolute;left:-73px;width:400px;text-align:center;top:571.19px;font:11px 'Liberation Sans', sans-serif;line-height:11px;color:#000;letter-spacing:-0.15px;white-space:nowrap;transform:scaleY(1.1);transform-origin:0 9.31px;">98</div>
<div style="position:absolute;left:155.5px;top:572.19px;font:11px 'Liberation Sans', sans-serif;line-height:11px;color:#000;letter-spacing:0.45px;white-space:nowrap;transform:scaleY(1.1);transform-origin:0 9.31px;">km/h</div>
<div style="position:absolute;left:12px;top:592px;width:16px;height:18px;background:#f0f0f0;box-sizing:border-box;border-top:1px solid #fff;border-left:1px solid #fff;border-bottom:1px solid #696969;border-right:1px solid #696969;box-shadow:inset -1px -1px 0 #a0a0a0"></div>
<svg style="position:absolute;left:16px;top:598px" width="4" height="7" shape-rendering="crispEdges"><path d="M3 0h1v7h-1v-1h-1v-1h-1v-1h-1v-1h1v-1h1v-1h1z" fill="#000"/></svg>
<div style="position:absolute;left:28px;top:592px;width:743px;height:18px;background:#f0f0f0;box-sizing:border-box;border-top:1px solid #fff;border-left:1px solid #fff;border-bottom:1px solid #696969;border-right:1px solid #696969;box-shadow:inset -1px -1px 0 #a0a0a0"></div>
<div style="position:absolute;left:773px;top:592px;width:17px;height:18px;background:#f0f0f0;box-sizing:border-box;border-top:1px solid #fff;border-left:1px solid #fff;border-bottom:1px solid #696969;border-right:1px solid #696969;box-shadow:inset -1px -1px 0 #a0a0a0"></div>
<svg style="position:absolute;left:780px;top:598px" width="4" height="7" shape-rendering="crispEdges"><path d="M0 0h1v1h1v1h1v1h1v1h-1v1h-1v1h-1v1h-1z" fill="#000"/></svg>
<div style="position:absolute;left:191.5px;top:46.84px;font:bold 12px 'Liberation Sans', sans-serif;line-height:12px;color:#000;letter-spacing:0px;white-space:nowrap;text-decoration:underline">km/h</div>
<div style="position:absolute;left:330.5px;top:47.95px;font:bold 14px 'Liberation Sans', sans-serif;line-height:14px;color:#000;letter-spacing:0.3px;white-space:nowrap;">&Uuml;bersetzungsdiagramm</div>
<div style="position:absolute;left:555.5px;top:49.49px;font:11px 'Liberation Sans', sans-serif;line-height:11px;color:#000;letter-spacing:-0.15px;white-space:nowrap;transform:scaleY(1.1);transform-origin:0 9.31px;">Datei:</div>
<div style="position:absolute;left:587px;top:46px;width:201px;height:17px;background:#f0f0f0;box-sizing:border-box;border-top:1px solid #a0a0a0;border-left:1px solid #a0a0a0;border-bottom:1px solid #fff;border-right:1px solid #fff"></div>
<svg style="position:absolute;left:0;top:0" width="797" height="619"><defs><pattern id="h" x="7" y="7" width="8" height="8" patternUnits="userSpaceOnUse"><rect width="8" height="8" fill="#fef8f8"/><rect x="0" y="0" width="1" height="1" fill="#d41212"/><rect x="0" y="7" width="1" height="1" fill="#d41212"/><rect x="1" y="1" width="1" height="1" fill="#d41212"/><rect x="1" y="6" width="1" height="1" fill="#d41212"/><rect x="2" y="2" width="1" height="1" fill="#d41212"/><rect x="2" y="5" width="1" height="1" fill="#d41212"/><rect x="3" y="3" width="1" height="1" fill="#d41212"/><rect x="3" y="4" width="1" height="1" fill="#d41212"/><rect x="4" y="3" width="1" height="1" fill="#d41212"/><rect x="4" y="4" width="1" height="1" fill="#d41212"/><rect x="5" y="2" width="1" height="1" fill="#d41212"/><rect x="5" y="5" width="1" height="1" fill="#d41212"/><rect x="6" y="1" width="1" height="1" fill="#d41212"/><rect x="6" y="6" width="1" height="1" fill="#d41212"/><rect x="7" y="0" width="1" height="1" fill="#d41212"/><rect x="7" y="7" width="1" height="1" fill="#d41212"/></pattern><clipPath id="pc"><rect x="214" y="70" width="570" height="351"/></clipPath></defs><g shape-rendering="crispEdges"><rect x="211" y="67" width="576" height="1" fill="#fff"/><rect x="211" y="67" width="1" height="358" fill="#fff"/><rect x="787" y="66" width="1" height="360" fill="#a0a0a0"/><rect x="211" y="425" width="577" height="1" fill="#a0a0a0"/><rect x="213" y="70" width="1" height="351" fill="#fff"/><rect x="231" y="70" width="1" height="351" fill="#fff"/><rect x="249" y="70" width="1" height="351" fill="#fff"/><rect x="266" y="70" width="1" height="351" fill="#fff"/><rect x="284" y="70" width="1" height="351" fill="#fff"/><rect x="302" y="70" width="1" height="351" fill="#fff"/><rect x="320" y="70" width="1" height="351" fill="#fff"/><rect x="338" y="70" width="1" height="351" fill="#fff"/><rect x="355" y="70" width="1" height="351" fill="#fff"/><rect x="373" y="70" width="1" height="351" fill="#fff"/><rect x="391" y="70" width="1" height="351" fill="#fff"/><rect x="409" y="70" width="1" height="351" fill="#fff"/><rect x="427" y="70" width="1" height="351" fill="#fff"/><rect x="444" y="70" width="1" height="351" fill="#fff"/><rect x="462" y="70" width="1" height="351" fill="#fff"/><rect x="480" y="70" width="1" height="351" fill="#fff"/><rect x="498" y="70" width="1" height="351" fill="#fff"/><rect x="516" y="70" width="1" height="351" fill="#fff"/><rect x="533" y="70" width="1" height="351" fill="#fff"/><rect x="551" y="70" width="1" height="351" fill="#fff"/><rect x="569" y="70" width="1" height="351" fill="#fff"/><rect x="587" y="70" width="1" height="351" fill="#fff"/><rect x="605" y="70" width="1" height="351" fill="#fff"/><rect x="622" y="70" width="1" height="351" fill="#fff"/><rect x="640" y="70" width="1" height="351" fill="#fff"/><rect x="658" y="70" width="1" height="351" fill="#fff"/><rect x="676" y="70" width="1" height="351" fill="#fff"/><rect x="694" y="70" width="1" height="351" fill="#fff"/><rect x="711" y="70" width="1" height="351" fill="#fff"/><rect x="729" y="70" width="1" height="351" fill="#fff"/><rect x="747" y="70" width="1" height="351" fill="#fff"/><rect x="765" y="70" width="1" height="351" fill="#fff"/><rect x="783" y="70" width="1" height="351" fill="#fff"/><rect x="214" y="420" width="570" height="1" fill="#fff"/><rect x="214" y="395" width="570" height="1" fill="#fff"/><rect x="214" y="370" width="570" height="1" fill="#fff"/><rect x="214" y="345" width="570" height="1" fill="#fff"/><rect x="214" y="320" width="570" height="1" fill="#fff"/><rect x="214" y="295" width="570" height="1" fill="#fff"/><rect x="214" y="270" width="570" height="1" fill="#fff"/><rect x="214" y="245" width="570" height="1" fill="#fff"/><rect x="214" y="220" width="570" height="1" fill="#fff"/><rect x="214" y="195" width="570" height="1" fill="#fff"/><rect x="214" y="170" width="570" height="1" fill="#fff"/><rect x="214" y="145" width="570" height="1" fill="#fff"/><rect x="214" y="120" width="570" height="1" fill="#fff"/><rect x="214" y="95" width="570" height="1" fill="#fff"/><rect x="214" y="70" width="570" height="1" fill="#fff"/></g><rect x="642" y="70" width="142" height="351" fill="url(#h)" shape-rendering="crispEdges"/><rect x="642.5" y="70.5" width="141" height="350" fill="none" stroke="#000" stroke-width="1" shape-rendering="crispEdges"/><g shape-rendering="crispEdges"><path d="M214 420h2v1h-2zM216 419h4v1h-4zM220 418h4v1h-4zM224 417h3v1h-3zM227 416h4v1h-4zM231 415h3v1h-3zM234 414h4v1h-4zM238 413h4v1h-4zM242 412h3v1h-3zM245 411h4v1h-4zM249 410h4v1h-4zM253 409h3v1h-3zM256 408h4v1h-4zM260 407h3v1h-3zM263 406h4v1h-4zM267 405h4v1h-4zM271 404h3v1h-3zM274 403h4v1h-4zM278 402h4v1h-4zM282 401h3v1h-3zM285 400h4v1h-4zM289 399h3v1h-3zM292 398h4v1h-4zM296 397h4v1h-4zM300 396h3v1h-3zM303 395h4v1h-4zM307 394h4v1h-4zM311 393h3v1h-3zM314 392h4v1h-4zM318 391h3v1h-3zM321 390h4v1h-4zM325 389h4v1h-4zM329 388h3v1h-3zM332 387h4v1h-4zM336 386h3v1h-3zM339 385h4v1h-4zM343 384h4v1h-4zM347 383h3v1h-3zM350 382h4v1h-4zM354 381h4v1h-4zM358 380h3v1h-3zM361 379h4v1h-4zM365 378h3v1h-3zM368 377h4v1h-4zM372 376h4v1h-4zM376 375h3v1h-3zM379 374h4v1h-4zM383 373h4v1h-4zM387 372h3v1h-3zM390 371h4v1h-4zM394 370h3v1h-3zM397 369h4v1h-4zM401 368h4v1h-4zM405 367h3v1h-3zM408 366h4v1h-4zM412 365h4v1h-4zM416 364h3v1h-3zM419 363h4v1h-4zM423 362h3v1h-3zM426 361h4v1h-4zM430 360h4v1h-4zM434 359h3v1h-3zM437 358h4v1h-4zM441 357h4v1h-4zM445 356h3v1h-3zM448 355h4v1h-4zM452 354h3v1h-3zM455 353h4v1h-4zM459 352h4v1h-4zM463 351h3v1h-3zM466 350h4v1h-4zM470 349h4v1h-4zM474 348h3v1h-3zM477 347h4v1h-4zM481 346h3v1h-3zM484 345h4v1h-4zM488 344h4v1h-4zM492 343h3v1h-3zM495 342h4v1h-4zM499 341h4v1h-4zM503 340h3v1h-3zM506 339h4v1h-4zM510 338h3v1h-3zM513 337h4v1h-4zM517 336h4v1h-4zM521 335h3v1h-3zM524 334h4v1h-4zM528 333h4v1h-4zM532 332h3v1h-3zM535 331h4v1h-4zM539 330h3v1h-3zM542 329h4v1h-4zM546 328h4v1h-4zM550 327h3v1h-3zM553 326h4v1h-4zM557 325h3v1h-3zM560 324h4v1h-4zM564 323h4v1h-4zM568 322h3v1h-3zM571 321h4v1h-4zM575 320h4v1h-4zM579 319h3v1h-3zM582 318h4v1h-4zM586 317h3v1h-3zM589 316h4v1h-4zM593 315h4v1h-4zM597 314h3v1h-3zM600 313h4v1h-4zM604 312h4v1h-4zM608 311h3v1h-3zM611 310h4v1h-4zM615 309h3v1h-3zM618 308h4v1h-4zM622 307h4v1h-4zM626 306h3v1h-3zM629 305h4v1h-4zM633 304h4v1h-4zM637 303h3v1h-3zM640 302h4v1h-4zM644 301h3v1h-3zM647 300h4v1h-4zM651 299h4v1h-4zM655 298h3v1h-3zM658 297h4v1h-4zM662 296h4v1h-4zM666 295h3v1h-3zM669 294h4v1h-4zM673 293h3v1h-3zM676 292h4v1h-4zM680 291h4v1h-4zM684 290h3v1h-3zM687 289h4v1h-4zM691 288h4v1h-4zM695 287h3v1h-3zM698 286h4v1h-4zM702 285h3v1h-3zM705 284h4v1h-4zM709 283h4v1h-4zM713 282h3v1h-3zM716 281h4v1h-4zM720 280h4v1h-4zM724 279h3v1h-3zM727 278h4v1h-4zM731 277h3v1h-3zM734 276h4v1h-4zM738 275h4v1h-4zM742 274h3v1h-3zM745 273h4v1h-4zM749 272h3v1h-3zM752 271h4v1h-4zM756 270h4v1h-4zM760 269h3v1h-3zM763 268h4v1h-4zM767 267h4v1h-4zM771 266h3v1h-3zM774 265h4v1h-4zM778 264h3v1h-3zM781 263h3v1h-3z" fill="#30d4e0"/><path d="M214 420h2v1h-2zM216 419h3v1h-3zM219 418h3v1h-3zM222 417h2v1h-2zM224 416h3v1h-3zM227 415h3v1h-3zM230 414h3v1h-3zM233 413h3v1h-3zM236 412h3v1h-3zM239 411h3v1h-3zM242 410h2v1h-2zM244 409h3v1h-3zM247 408h3v1h-3zM250 407h3v1h-3zM253 406h3v1h-3zM256 405h3v1h-3zM259 404h3v1h-3zM262 403h2v1h-2zM264 402h3v1h-3zM267 401h3v1h-3zM270 400h3v1h-3zM273 399h3v1h-3zM276 398h3v1h-3zM279 397h2v1h-2zM281 396h3v1h-3zM284 395h3v1h-3zM287 394h3v1h-3zM290 393h3v1h-3zM293 392h3v1h-3zM296 391h3v1h-3zM299 390h2v1h-2zM301 389h3v1h-3zM304 388h3v1h-3zM307 387h3v1h-3zM310 386h3v1h-3zM313 385h3v1h-3zM316 384h3v1h-3zM319 383h2v1h-2zM321 382h3v1h-3zM324 381h3v1h-3zM327 380h3v1h-3zM330 379h3v1h-3zM333 378h3v1h-3zM336 377h2v1h-2zM338 376h3v1h-3zM341 375h3v1h-3zM344 374h3v1h-3zM347 373h3v1h-3zM350 372h3v1h-3zM353 371h3v1h-3zM356 370h2v1h-2zM358 369h3v1h-3zM361 368h3v1h-3zM364 367h3v1h-3zM367 366h3v1h-3zM370 365h3v1h-3zM373 364h3v1h-3zM376 363h2v1h-2zM378 362h3v1h-3zM381 361h3v1h-3zM384 360h3v1h-3zM387 359h3v1h-3zM390 358h3v1h-3zM393 357h2v1h-2zM395 356h3v1h-3zM398 355h3v1h-3zM401 354h3v1h-3zM404 353h3v1h-3zM407 352h3v1h-3zM410 351h3v1h-3zM413 350h2v1h-2zM415 349h3v1h-3zM418 348h3v1h-3zM421 347h3v1h-3zM424 346h3v1h-3zM427 345h3v1h-3zM430 344h3v1h-3zM433 343h2v1h-2zM435 342h3v1h-3zM438 341h3v1h-3zM441 340h3v1h-3zM444 339h3v1h-3zM447 338h3v1h-3zM450 337h2v1h-2zM452 336h3v1h-3zM455 335h3v1h-3zM458 334h3v1h-3zM461 333h3v1h-3zM464 332h3v1h-3zM467 331h3v1h-3zM470 330h2v1h-2zM472 329h3v1h-3zM475 328h3v1h-3zM478 327h3v1h-3zM481 326h3v1h-3zM484 325h3v1h-3zM487 324h3v1h-3zM490 323h2v1h-2zM492 322h3v1h-3zM495 321h3v1h-3zM498 320h3v1h-3zM501 319h3v1h-3zM504 318h3v1h-3zM507 317h2v1h-2zM509 316h3v1h-3zM512 315h3v1h-3zM515 314h3v1h-3zM518 313h3v1h-3zM521 312h3v1h-3zM524 311h3v1h-3zM527 310h2v1h-2zM529 309h3v1h-3zM532 308h3v1h-3zM535 307h3v1h-3zM538 306h3v1h-3zM541 305h3v1h-3zM544 304h3v1h-3zM547 303h2v1h-2zM549 302h3v1h-3zM552 301h3v1h-3zM555 300h3v1h-3zM558 299h3v1h-3zM561 298h3v1h-3zM564 297h2v1h-2zM566 296h3v1h-3zM569 295h3v1h-3zM572 294h3v1h-3zM575 293h3v1h-3zM578 292h3v1h-3zM581 291h3v1h-3zM584 290h2v1h-2zM586 289h3v1h-3zM589 288h3v1h-3zM592 287h3v1h-3zM595 286h3v1h-3zM598 285h3v1h-3zM601 284h3v1h-3zM604 283h2v1h-2zM606 282h3v1h-3zM609 281h3v1h-3zM612 280h3v1h-3zM615 279h3v1h-3zM618 278h3v1h-3zM621 277h2v1h-2zM623 276h3v1h-3zM626 275h3v1h-3zM629 274h3v1h-3zM632 273h3v1h-3zM635 272h3v1h-3zM638 271h3v1h-3zM641 270h2v1h-2zM643 269h3v1h-3zM646 268h3v1h-3zM649 267h3v1h-3zM652 266h3v1h-3zM655 265h3v1h-3zM658 264h3v1h-3zM661 263h2v1h-2zM663 262h3v1h-3zM666 261h3v1h-3zM669 260h3v1h-3zM672 259h3v1h-3zM675 258h3v1h-3zM678 257h2v1h-2zM680 256h3v1h-3zM683 255h3v1h-3zM686 254h3v1h-3zM689 253h3v1h-3zM692 252h3v1h-3zM695 251h3v1h-3zM698 250h2v1h-2zM700 249h3v1h-3zM703 248h3v1h-3zM706 247h3v1h-3zM709 246h3v1h-3zM712 245h3v1h-3zM715 244h3v1h-3zM718 243h2v1h-2zM720 242h3v1h-3zM723 241h3v1h-3zM726 240h3v1h-3zM729 239h3v1h-3zM732 238h3v1h-3zM735 237h2v1h-2zM737 236h3v1h-3zM740 235h3v1h-3zM743 234h3v1h-3zM746 233h3v1h-3zM749 232h3v1h-3zM752 231h3v1h-3zM755 230h2v1h-2zM757 229h3v1h-3zM760 228h3v1h-3zM763 227h3v1h-3zM766 226h3v1h-3zM769 225h3v1h-3zM772 224h3v1h-3zM775 223h2v1h-2zM777 222h3v1h-3zM780 221h3v1h-3zM783 220h1v1h-1z" fill="#701020"/><path d="M214 420h2v1h-2zM216 419h2v1h-2zM218 418h2v1h-2zM220 417h3v1h-3zM223 416h2v1h-2zM225 415h2v1h-2zM227 414h3v1h-3zM230 413h2v1h-2zM232 412h3v1h-3zM235 411h2v1h-2zM237 410h2v1h-2zM239 409h3v1h-3zM242 408h2v1h-2zM244 407h2v1h-2zM246 406h3v1h-3zM249 405h2v1h-2zM251 404h2v1h-2zM253 403h3v1h-3zM256 402h2v1h-2zM258 401h3v1h-3zM261 400h2v1h-2zM263 399h2v1h-2zM265 398h3v1h-3zM268 397h2v1h-2zM270 396h2v1h-2zM272 395h3v1h-3zM275 394h2v1h-2zM277 393h2v1h-2zM279 392h3v1h-3zM282 391h2v1h-2zM284 390h3v1h-3zM287 389h2v1h-2zM289 388h2v1h-2zM291 387h3v1h-3zM294 386h2v1h-2zM296 385h2v1h-2zM298 384h3v1h-3zM301 383h2v1h-2zM303 382h2v1h-2zM305 381h3v1h-3zM308 380h2v1h-2zM310 379h3v1h-3zM313 378h2v1h-2zM315 377h2v1h-2zM317 376h3v1h-3zM320 375h2v1h-2zM322 374h2v1h-2zM324 373h3v1h-3zM327 372h2v1h-2zM329 371h2v1h-2zM331 370h3v1h-3zM334 369h2v1h-2zM336 368h2v1h-2zM338 367h3v1h-3zM341 366h2v1h-2zM343 365h3v1h-3zM346 364h2v1h-2zM348 363h2v1h-2zM350 362h3v1h-3zM353 361h2v1h-2zM355 360h2v1h-2zM357 359h3v1h-3zM360 358h2v1h-2zM362 357h2v1h-2zM364 356h3v1h-3zM367 355h2v1h-2zM369 354h3v1h-3zM372 353h2v1h-2zM374 352h2v1h-2zM376 351h3v1h-3zM379 350h2v1h-2zM381 349h2v1h-2zM383 348h3v1h-3zM386 347h2v1h-2zM388 346h2v1h-2zM390 345h3v1h-3zM393 344h2v1h-2zM395 343h3v1h-3zM398 342h2v1h-2zM400 341h2v1h-2zM402 340h3v1h-3zM405 339h2v1h-2zM407 338h2v1h-2zM409 337h3v1h-3zM412 336h2v1h-2zM414 335h2v1h-2zM416 334h3v1h-3zM419 333h2v1h-2zM421 332h3v1h-3zM424 331h2v1h-2zM426 330h2v1h-2zM428 329h3v1h-3zM431 328h2v1h-2zM433 327h2v1h-2zM435 326h3v1h-3zM438 325h2v1h-2zM440 324h2v1h-2zM442 323h3v1h-3zM445 322h2v1h-2zM447 321h3v1h-3zM450 320h2v1h-2zM452 319h2v1h-2zM454 318h3v1h-3zM457 317h2v1h-2zM459 316h2v1h-2zM461 315h3v1h-3zM464 314h2v1h-2zM466 313h2v1h-2zM468 312h3v1h-3zM471 311h2v1h-2zM473 310h2v1h-2zM475 309h3v1h-3zM478 308h2v1h-2zM480 307h3v1h-3zM483 306h2v1h-2zM485 305h2v1h-2zM487 304h3v1h-3zM490 303h2v1h-2zM492 302h2v1h-2zM494 301h3v1h-3zM497 300h2v1h-2zM499 299h2v1h-2zM501 298h3v1h-3zM504 297h2v1h-2zM506 296h3v1h-3zM509 295h2v1h-2zM511 294h2v1h-2zM513 293h3v1h-3zM516 292h2v1h-2zM518 291h2v1h-2zM520 290h3v1h-3zM523 289h2v1h-2zM525 288h2v1h-2zM527 287h3v1h-3zM530 286h2v1h-2zM532 285h3v1h-3zM535 284h2v1h-2zM537 283h2v1h-2zM539 282h3v1h-3zM542 281h2v1h-2zM544 280h2v1h-2zM546 279h3v1h-3zM549 278h2v1h-2zM551 277h2v1h-2zM553 276h3v1h-3zM556 275h2v1h-2zM558 274h3v1h-3zM561 273h2v1h-2zM563 272h2v1h-2zM565 271h3v1h-3zM568 270h2v1h-2zM570 269h2v1h-2zM572 268h3v1h-3zM575 267h2v1h-2zM577 266h2v1h-2zM579 265h3v1h-3zM582 264h2v1h-2zM584 263h2v1h-2zM586 262h3v1h-3zM589 261h2v1h-2zM591 260h3v1h-3zM594 259h2v1h-2zM596 258h2v1h-2zM598 257h3v1h-3zM601 256h2v1h-2zM603 255h2v1h-2zM605 254h3v1h-3zM608 253h2v1h-2zM610 252h2v1h-2zM612 251h3v1h-3zM615 250h2v1h-2zM617 249h3v1h-3zM620 248h2v1h-2zM622 247h2v1h-2zM624 246h3v1h-3zM627 245h2v1h-2zM629 244h2v1h-2zM631 243h3v1h-3zM634 242h2v1h-2zM636 241h2v1h-2zM638 240h3v1h-3zM641 239h2v1h-2zM643 238h3v1h-3zM646 237h2v1h-2zM648 236h2v1h-2zM650 235h3v1h-3zM653 234h2v1h-2zM655 233h2v1h-2zM657 232h3v1h-3zM660 231h2v1h-2zM662 230h2v1h-2zM664 229h3v1h-3zM667 228h2v1h-2zM669 227h3v1h-3zM672 226h2v1h-2zM674 225h2v1h-2zM676 224h3v1h-3zM679 223h2v1h-2zM681 222h2v1h-2zM683 221h3v1h-3zM686 220h2v1h-2zM688 219h2v1h-2zM690 218h3v1h-3zM693 217h2v1h-2zM695 216h3v1h-3zM698 215h2v1h-2zM700 214h2v1h-2zM702 213h3v1h-3zM705 212h2v1h-2zM707 211h2v1h-2zM709 210h3v1h-3zM712 209h2v1h-2zM714 208h2v1h-2zM716 207h3v1h-3zM719 206h2v1h-2zM721 205h2v1h-2zM723 204h3v1h-3zM726 203h2v1h-2zM728 202h3v1h-3zM731 201h2v1h-2zM733 200h2v1h-2zM735 199h3v1h-3zM738 198h2v1h-2zM740 197h2v1h-2zM742 196h3v1h-3zM745 195h2v1h-2zM747 194h2v1h-2zM749 193h3v1h-3zM752 192h2v1h-2zM754 191h3v1h-3zM757 190h2v1h-2zM759 189h2v1h-2zM761 188h3v1h-3zM764 187h2v1h-2zM766 186h2v1h-2zM768 185h3v1h-3zM771 184h2v1h-2zM773 183h2v1h-2zM775 182h3v1h-3zM778 181h2v1h-2zM780 180h3v1h-3zM783 179h1v1h-1z" fill="#000000"/><path d="M214 420h2v1h-2zM216 419h2v1h-2zM218 418h2v1h-2zM220 417h2v1h-2zM222 416h2v1h-2zM224 415h2v1h-2zM226 414h2v1h-2zM228 413h2v1h-2zM230 412h2v1h-2zM232 411h2v1h-2zM234 410h2v1h-2zM236 409h2v1h-2zM238 408h2v1h-2zM240 407h3v1h-3zM243 406h2v1h-2zM245 405h2v1h-2zM247 404h2v1h-2zM249 403h2v1h-2zM251 402h2v1h-2zM253 401h2v1h-2zM255 400h2v1h-2zM257 399h2v1h-2zM259 398h2v1h-2zM261 397h2v1h-2zM263 396h2v1h-2zM265 395h2v1h-2zM267 394h2v1h-2zM269 393h3v1h-3zM272 392h2v1h-2zM274 391h2v1h-2zM276 390h2v1h-2zM278 389h2v1h-2zM280 388h2v1h-2zM282 387h2v1h-2zM284 386h2v1h-2zM286 385h2v1h-2zM288 384h2v1h-2zM290 383h2v1h-2zM292 382h2v1h-2zM294 381h2v1h-2zM296 380h3v1h-3zM299 379h2v1h-2zM301 378h2v1h-2zM303 377h2v1h-2zM305 376h2v1h-2zM307 375h2v1h-2zM309 374h2v1h-2zM311 373h2v1h-2zM313 372h2v1h-2zM315 371h2v1h-2zM317 370h2v1h-2zM319 369h2v1h-2zM321 368h2v1h-2zM323 367h3v1h-3zM326 366h2v1h-2zM328 365h2v1h-2zM330 364h2v1h-2zM332 363h2v1h-2zM334 362h2v1h-2zM336 361h2v1h-2zM338 360h2v1h-2zM340 359h2v1h-2zM342 358h2v1h-2zM344 357h2v1h-2zM346 356h2v1h-2zM348 355h2v1h-2zM350 354h3v1h-3zM353 353h2v1h-2zM355 352h2v1h-2zM357 351h2v1h-2zM359 350h2v1h-2zM361 349h2v1h-2zM363 348h2v1h-2zM365 347h2v1h-2zM367 346h2v1h-2zM369 345h2v1h-2zM371 344h2v1h-2zM373 343h2v1h-2zM375 342h2v1h-2zM377 341h2v1h-2zM379 340h3v1h-3zM382 339h2v1h-2zM384 338h2v1h-2zM386 337h2v1h-2zM388 336h2v1h-2zM390 335h2v1h-2zM392 334h2v1h-2zM394 333h2v1h-2zM396 332h2v1h-2zM398 331h2v1h-2zM400 330h2v1h-2zM402 329h2v1h-2zM404 328h2v1h-2zM406 327h3v1h-3zM409 326h2v1h-2zM411 325h2v1h-2zM413 324h2v1h-2zM415 323h2v1h-2zM417 322h2v1h-2zM419 321h2v1h-2zM421 320h2v1h-2zM423 319h2v1h-2zM425 318h2v1h-2zM427 317h2v1h-2zM429 316h2v1h-2zM431 315h2v1h-2zM433 314h3v1h-3zM436 313h2v1h-2zM438 312h2v1h-2zM440 311h2v1h-2zM442 310h2v1h-2zM444 309h2v1h-2zM446 308h2v1h-2zM448 307h2v1h-2zM450 306h2v1h-2zM452 305h2v1h-2zM454 304h2v1h-2zM456 303h2v1h-2zM458 302h2v1h-2zM460 301h2v1h-2zM462 300h3v1h-3zM465 299h2v1h-2zM467 298h2v1h-2zM469 297h2v1h-2zM471 296h2v1h-2zM473 295h2v1h-2zM475 294h2v1h-2zM477 293h2v1h-2zM479 292h2v1h-2zM481 291h2v1h-2zM483 290h2v1h-2zM485 289h2v1h-2zM487 288h2v1h-2zM489 287h3v1h-3zM492 286h2v1h-2zM494 285h2v1h-2zM496 284h2v1h-2zM498 283h2v1h-2zM500 282h2v1h-2zM502 281h2v1h-2zM504 280h2v1h-2zM506 279h2v1h-2zM508 278h2v1h-2zM510 277h2v1h-2zM512 276h2v1h-2zM514 275h2v1h-2zM516 274h3v1h-3zM519 273h2v1h-2zM521 272h2v1h-2zM523 271h2v1h-2zM525 270h2v1h-2zM527 269h2v1h-2zM529 268h2v1h-2zM531 267h2v1h-2zM533 266h2v1h-2zM535 265h2v1h-2zM537 264h2v1h-2zM539 263h2v1h-2zM541 262h2v1h-2zM543 261h3v1h-3zM546 260h2v1h-2zM548 259h2v1h-2zM550 258h2v1h-2zM552 257h2v1h-2zM554 256h2v1h-2zM556 255h2v1h-2zM558 254h2v1h-2zM560 253h2v1h-2zM562 252h2v1h-2zM564 251h2v1h-2zM566 250h2v1h-2zM568 249h2v1h-2zM570 248h2v1h-2zM572 247h3v1h-3zM575 246h2v1h-2zM577 245h2v1h-2zM579 244h2v1h-2zM581 243h2v1h-2zM583 242h2v1h-2zM585 241h2v1h-2zM587 240h2v1h-2zM589 239h2v1h-2zM591 238h2v1h-2zM593 237h2v1h-2zM595 236h2v1h-2zM597 235h2v1h-2zM599 234h3v1h-3zM602 233h2v1h-2zM604 232h2v1h-2zM606 231h2v1h-2zM608 230h2v1h-2zM610 229h2v1h-2zM612 228h2v1h-2zM614 227h2v1h-2zM616 226h2v1h-2zM618 225h2v1h-2zM620 224h2v1h-2zM622 223h2v1h-2zM624 222h2v1h-2zM626 221h3v1h-3zM629 220h2v1h-2zM631 219h2v1h-2zM633 218h2v1h-2zM635 217h2v1h-2zM637 216h2v1h-2zM639 215h2v1h-2zM641 214h2v1h-2zM643 213h2v1h-2zM645 212h2v1h-2zM647 211h2v1h-2zM649 210h2v1h-2zM651 209h2v1h-2zM653 208h2v1h-2zM655 207h3v1h-3zM658 206h2v1h-2zM660 205h2v1h-2zM662 204h2v1h-2zM664 203h2v1h-2zM666 202h2v1h-2zM668 201h2v1h-2zM670 200h2v1h-2zM672 199h2v1h-2zM674 198h2v1h-2zM676 197h2v1h-2zM678 196h2v1h-2zM680 195h2v1h-2zM682 194h3v1h-3zM685 193h2v1h-2zM687 192h2v1h-2zM689 191h2v1h-2zM691 190h2v1h-2zM693 189h2v1h-2zM695 188h2v1h-2zM697 187h2v1h-2zM699 186h2v1h-2zM701 185h2v1h-2zM703 184h2v1h-2zM705 183h2v1h-2zM707 182h2v1h-2zM709 181h3v1h-3zM712 180h2v1h-2zM714 179h2v1h-2zM716 178h2v1h-2zM718 177h2v1h-2zM720 176h2v1h-2zM722 175h2v1h-2zM724 174h2v1h-2zM726 173h2v1h-2zM728 172h2v1h-2zM730 171h2v1h-2zM732 170h2v1h-2zM734 169h2v1h-2zM736 168h2v1h-2zM738 167h3v1h-3zM741 166h2v1h-2zM743 165h2v1h-2zM745 164h2v1h-2zM747 163h2v1h-2zM749 162h2v1h-2zM751 161h2v1h-2zM753 160h2v1h-2zM755 159h2v1h-2zM757 158h2v1h-2zM759 157h2v1h-2zM761 156h2v1h-2zM763 155h2v1h-2zM765 154h3v1h-3zM768 153h2v1h-2zM770 152h2v1h-2zM772 151h2v1h-2zM774 150h2v1h-2zM776 149h2v1h-2zM778 148h2v1h-2zM780 147h2v1h-2zM782 146h2v1h-2z" fill="#1e6a22"/><path d="M214 420h1v1h-1zM215 419h2v1h-2zM217 418h2v1h-2zM219 417h2v1h-2zM221 416h2v1h-2zM223 415h2v1h-2zM225 414h1v1h-1zM226 413h2v1h-2zM228 412h2v1h-2zM230 411h2v1h-2zM232 410h2v1h-2zM234 409h2v1h-2zM236 408h1v1h-1zM237 407h2v1h-2zM239 406h2v1h-2zM241 405h2v1h-2zM243 404h2v1h-2zM245 403h2v1h-2zM247 402h1v1h-1zM248 401h2v1h-2zM250 400h2v1h-2zM252 399h2v1h-2zM254 398h2v1h-2zM256 397h2v1h-2zM258 396h1v1h-1zM259 395h2v1h-2zM261 394h2v1h-2zM263 393h2v1h-2zM265 392h2v1h-2zM267 391h2v1h-2zM269 390h1v1h-1zM270 389h2v1h-2zM272 388h2v1h-2zM274 387h2v1h-2zM276 386h2v1h-2zM278 385h2v1h-2zM280 384h1v1h-1zM281 383h2v1h-2zM283 382h2v1h-2zM285 381h2v1h-2zM287 380h2v1h-2zM289 379h2v1h-2zM291 378h1v1h-1zM292 377h2v1h-2zM294 376h2v1h-2zM296 375h2v1h-2zM298 374h2v1h-2zM300 373h2v1h-2zM302 372h1v1h-1zM303 371h2v1h-2zM305 370h2v1h-2zM307 369h2v1h-2zM309 368h2v1h-2zM311 367h2v1h-2zM313 366h1v1h-1zM314 365h2v1h-2zM316 364h2v1h-2zM318 363h2v1h-2zM320 362h2v1h-2zM322 361h2v1h-2zM324 360h2v1h-2zM326 359h1v1h-1zM327 358h2v1h-2zM329 357h2v1h-2zM331 356h2v1h-2zM333 355h2v1h-2zM335 354h2v1h-2zM337 353h1v1h-1zM338 352h2v1h-2zM340 351h2v1h-2zM342 350h2v1h-2zM344 349h2v1h-2zM346 348h2v1h-2zM348 347h1v1h-1zM349 346h2v1h-2zM351 345h2v1h-2zM353 344h2v1h-2zM355 343h2v1h-2zM357 342h2v1h-2zM359 341h1v1h-1zM360 340h2v1h-2zM362 339h2v1h-2zM364 338h2v1h-2zM366 337h2v1h-2zM368 336h2v1h-2zM370 335h1v1h-1zM371 334h2v1h-2zM373 333h2v1h-2zM375 332h2v1h-2zM377 331h2v1h-2zM379 330h2v1h-2zM381 329h1v1h-1zM382 328h2v1h-2zM384 327h2v1h-2zM386 326h2v1h-2zM388 325h2v1h-2zM390 324h2v1h-2zM392 323h1v1h-1zM393 322h2v1h-2zM395 321h2v1h-2zM397 320h2v1h-2zM399 319h2v1h-2zM401 318h2v1h-2zM403 317h1v1h-1zM404 316h2v1h-2zM406 315h2v1h-2zM408 314h2v1h-2zM410 313h2v1h-2zM412 312h2v1h-2zM414 311h1v1h-1zM415 310h2v1h-2zM417 309h2v1h-2zM419 308h2v1h-2zM421 307h2v1h-2zM423 306h2v1h-2zM425 305h1v1h-1zM426 304h2v1h-2zM428 303h2v1h-2zM430 302h2v1h-2zM432 301h2v1h-2zM434 300h2v1h-2zM436 299h1v1h-1zM437 298h2v1h-2zM439 297h2v1h-2zM441 296h2v1h-2zM443 295h2v1h-2zM445 294h2v1h-2zM447 293h1v1h-1zM448 292h2v1h-2zM450 291h2v1h-2zM452 290h2v1h-2zM454 289h2v1h-2zM456 288h2v1h-2zM458 287h1v1h-1zM459 286h2v1h-2zM461 285h2v1h-2zM463 284h2v1h-2zM465 283h2v1h-2zM467 282h2v1h-2zM469 281h1v1h-1zM470 280h2v1h-2zM472 279h2v1h-2zM474 278h2v1h-2zM476 277h2v1h-2zM478 276h2v1h-2zM480 275h1v1h-1zM481 274h2v1h-2zM483 273h2v1h-2zM485 272h2v1h-2zM487 271h2v1h-2zM489 270h2v1h-2zM491 269h1v1h-1zM492 268h2v1h-2zM494 267h2v1h-2zM496 266h2v1h-2zM498 265h2v1h-2zM500 264h2v1h-2zM502 263h1v1h-1zM503 262h2v1h-2zM505 261h2v1h-2zM507 260h2v1h-2zM509 259h2v1h-2zM511 258h2v1h-2zM513 257h1v1h-1zM514 256h2v1h-2zM516 255h2v1h-2zM518 254h2v1h-2zM520 253h2v1h-2zM522 252h2v1h-2zM524 251h1v1h-1zM525 250h2v1h-2zM527 249h2v1h-2zM529 248h2v1h-2zM531 247h2v1h-2zM533 246h2v1h-2zM535 245h2v1h-2zM537 244h1v1h-1zM538 243h2v1h-2zM540 242h2v1h-2zM542 241h2v1h-2zM544 240h2v1h-2zM546 239h2v1h-2zM548 238h1v1h-1zM549 237h2v1h-2zM551 236h2v1h-2zM553 235h2v1h-2zM555 234h2v1h-2zM557 233h2v1h-2zM559 232h1v1h-1zM560 231h2v1h-2zM562 230h2v1h-2zM564 229h2v1h-2zM566 228h2v1h-2zM568 227h2v1h-2zM570 226h1v1h-1zM571 225h2v1h-2zM573 224h2v1h-2zM575 223h2v1h-2zM577 222h2v1h-2zM579 221h2v1h-2zM581 220h1v1h-1zM582 219h2v1h-2zM584 218h2v1h-2zM586 217h2v1h-2zM588 216h2v1h-2zM590 215h2v1h-2zM592 214h1v1h-1zM593 213h2v1h-2zM595 212h2v1h-2zM597 211h2v1h-2zM599 210h2v1h-2zM601 209h2v1h-2zM603 208h1v1h-1zM604 207h2v1h-2zM606 206h2v1h-2zM608 205h2v1h-2zM610 204h2v1h-2zM612 203h2v1h-2zM614 202h1v1h-1zM615 201h2v1h-2zM617 200h2v1h-2zM619 199h2v1h-2zM621 198h2v1h-2zM623 197h2v1h-2zM625 196h1v1h-1zM626 195h2v1h-2zM628 194h2v1h-2zM630 193h2v1h-2zM632 192h2v1h-2zM634 191h2v1h-2zM636 190h1v1h-1zM637 189h2v1h-2zM639 188h2v1h-2zM641 187h2v1h-2zM643 186h2v1h-2zM645 185h2v1h-2zM647 184h1v1h-1zM648 183h2v1h-2zM650 182h2v1h-2zM652 181h2v1h-2zM654 180h2v1h-2zM656 179h2v1h-2zM658 178h1v1h-1zM659 177h2v1h-2zM661 176h2v1h-2zM663 175h2v1h-2zM665 174h2v1h-2zM667 173h2v1h-2zM669 172h1v1h-1zM670 171h2v1h-2zM672 170h2v1h-2zM674 169h2v1h-2zM676 168h2v1h-2zM678 167h2v1h-2zM680 166h1v1h-1zM681 165h2v1h-2zM683 164h2v1h-2zM685 163h2v1h-2zM687 162h2v1h-2zM689 161h2v1h-2zM691 160h1v1h-1zM692 159h2v1h-2zM694 158h2v1h-2zM696 157h2v1h-2zM698 156h2v1h-2zM700 155h2v1h-2zM702 154h1v1h-1zM703 153h2v1h-2zM705 152h2v1h-2zM707 151h2v1h-2zM709 150h2v1h-2zM711 149h2v1h-2zM713 148h1v1h-1zM714 147h2v1h-2zM716 146h2v1h-2zM718 145h2v1h-2zM720 144h2v1h-2zM722 143h2v1h-2zM724 142h1v1h-1zM725 141h2v1h-2zM727 140h2v1h-2zM729 139h2v1h-2zM731 138h2v1h-2zM733 137h2v1h-2zM735 136h1v1h-1zM736 135h2v1h-2zM738 134h2v1h-2zM740 133h2v1h-2zM742 132h2v1h-2zM744 131h2v1h-2zM746 130h1v1h-1zM747 129h2v1h-2zM749 128h2v1h-2zM751 127h2v1h-2zM753 126h2v1h-2zM755 125h2v1h-2zM757 124h2v1h-2zM759 123h1v1h-1zM760 122h2v1h-2zM762 121h2v1h-2zM764 120h2v1h-2zM766 119h2v1h-2zM768 118h2v1h-2zM770 117h1v1h-1zM771 116h2v1h-2zM773 115h2v1h-2zM775 114h2v1h-2zM777 113h2v1h-2zM779 112h2v1h-2zM781 111h1v1h-1zM782 110h2v1h-2z" fill="#c030c8"/><path d="M214 420h1v1h-1zM215 419h2v1h-2zM217 418h2v1h-2zM219 417h1v1h-1zM220 416h2v1h-2zM222 415h2v1h-2zM224 414h1v1h-1zM225 413h2v1h-2zM227 412h1v1h-1zM228 411h2v1h-2zM230 410h2v1h-2zM232 409h1v1h-1zM233 408h2v1h-2zM235 407h2v1h-2zM237 406h1v1h-1zM238 405h2v1h-2zM240 404h2v1h-2zM242 403h1v1h-1zM243 402h2v1h-2zM245 401h2v1h-2zM247 400h1v1h-1zM248 399h2v1h-2zM250 398h1v1h-1zM251 397h2v1h-2zM253 396h2v1h-2zM255 395h1v1h-1zM256 394h2v1h-2zM258 393h2v1h-2zM260 392h1v1h-1zM261 391h2v1h-2zM263 390h2v1h-2zM265 389h1v1h-1zM266 388h2v1h-2zM268 387h2v1h-2zM270 386h1v1h-1zM271 385h2v1h-2zM273 384h2v1h-2zM275 383h1v1h-1zM276 382h2v1h-2zM278 381h1v1h-1zM279 380h2v1h-2zM281 379h2v1h-2zM283 378h1v1h-1zM284 377h2v1h-2zM286 376h2v1h-2zM288 375h1v1h-1zM289 374h2v1h-2zM291 373h2v1h-2zM293 372h1v1h-1zM294 371h2v1h-2zM296 370h2v1h-2zM298 369h1v1h-1zM299 368h2v1h-2zM301 367h1v1h-1zM302 366h2v1h-2zM304 365h2v1h-2zM306 364h1v1h-1zM307 363h2v1h-2zM309 362h2v1h-2zM311 361h1v1h-1zM312 360h2v1h-2zM314 359h2v1h-2zM316 358h1v1h-1zM317 357h2v1h-2zM319 356h2v1h-2zM321 355h1v1h-1zM322 354h2v1h-2zM324 353h1v1h-1zM325 352h2v1h-2zM327 351h2v1h-2zM329 350h1v1h-1zM330 349h2v1h-2zM332 348h2v1h-2zM334 347h1v1h-1zM335 346h2v1h-2zM337 345h2v1h-2zM339 344h1v1h-1zM340 343h2v1h-2zM342 342h2v1h-2zM344 341h1v1h-1zM345 340h2v1h-2zM347 339h2v1h-2zM349 338h1v1h-1zM350 337h2v1h-2zM352 336h1v1h-1zM353 335h2v1h-2zM355 334h2v1h-2zM357 333h1v1h-1zM358 332h2v1h-2zM360 331h2v1h-2zM362 330h1v1h-1zM363 329h2v1h-2zM365 328h2v1h-2zM367 327h1v1h-1zM368 326h2v1h-2zM370 325h2v1h-2zM372 324h1v1h-1zM373 323h2v1h-2zM375 322h1v1h-1zM376 321h2v1h-2zM378 320h2v1h-2zM380 319h1v1h-1zM381 318h2v1h-2zM383 317h2v1h-2zM385 316h1v1h-1zM386 315h2v1h-2zM388 314h2v1h-2zM390 313h1v1h-1zM391 312h2v1h-2zM393 311h2v1h-2zM395 310h1v1h-1zM396 309h2v1h-2zM398 308h1v1h-1zM399 307h2v1h-2zM401 306h2v1h-2zM403 305h1v1h-1zM404 304h2v1h-2zM406 303h2v1h-2zM408 302h1v1h-1zM409 301h2v1h-2zM411 300h2v1h-2zM413 299h1v1h-1zM414 298h2v1h-2zM416 297h2v1h-2zM418 296h1v1h-1zM419 295h2v1h-2zM421 294h1v1h-1zM422 293h2v1h-2zM424 292h2v1h-2zM426 291h1v1h-1zM427 290h2v1h-2zM429 289h2v1h-2zM431 288h1v1h-1zM432 287h2v1h-2zM434 286h2v1h-2zM436 285h1v1h-1zM437 284h2v1h-2zM439 283h2v1h-2zM441 282h1v1h-1zM442 281h2v1h-2zM444 280h2v1h-2zM446 279h1v1h-1zM447 278h2v1h-2zM449 277h1v1h-1zM450 276h2v1h-2zM452 275h2v1h-2zM454 274h1v1h-1zM455 273h2v1h-2zM457 272h2v1h-2zM459 271h1v1h-1zM460 270h2v1h-2zM462 269h2v1h-2zM464 268h1v1h-1zM465 267h2v1h-2zM467 266h2v1h-2zM469 265h1v1h-1zM470 264h2v1h-2zM472 263h1v1h-1zM473 262h2v1h-2zM475 261h2v1h-2zM477 260h1v1h-1zM478 259h2v1h-2zM480 258h2v1h-2zM482 257h1v1h-1zM483 256h2v1h-2zM485 255h2v1h-2zM487 254h1v1h-1zM488 253h2v1h-2zM490 252h2v1h-2zM492 251h1v1h-1zM493 250h2v1h-2zM495 249h1v1h-1zM496 248h2v1h-2zM498 247h2v1h-2zM500 246h1v1h-1zM501 245h2v1h-2zM503 244h2v1h-2zM505 243h1v1h-1zM506 242h2v1h-2zM508 241h2v1h-2zM510 240h1v1h-1zM511 239h2v1h-2zM513 238h2v1h-2zM515 237h1v1h-1zM516 236h2v1h-2zM518 235h2v1h-2zM520 234h1v1h-1zM521 233h2v1h-2zM523 232h1v1h-1zM524 231h2v1h-2zM526 230h2v1h-2zM528 229h1v1h-1zM529 228h2v1h-2zM531 227h2v1h-2zM533 226h1v1h-1zM534 225h2v1h-2zM536 224h2v1h-2zM538 223h1v1h-1zM539 222h2v1h-2zM541 221h2v1h-2zM543 220h1v1h-1zM544 219h2v1h-2zM546 218h1v1h-1zM547 217h2v1h-2zM549 216h2v1h-2zM551 215h1v1h-1zM552 214h2v1h-2zM554 213h2v1h-2zM556 212h1v1h-1zM557 211h2v1h-2zM559 210h2v1h-2zM561 209h1v1h-1zM562 208h2v1h-2zM564 207h2v1h-2zM566 206h1v1h-1zM567 205h2v1h-2zM569 204h1v1h-1zM570 203h2v1h-2zM572 202h2v1h-2zM574 201h1v1h-1zM575 200h2v1h-2zM577 199h2v1h-2zM579 198h1v1h-1zM580 197h2v1h-2zM582 196h2v1h-2zM584 195h1v1h-1zM585 194h2v1h-2zM587 193h2v1h-2zM589 192h1v1h-1zM590 191h2v1h-2zM592 190h1v1h-1zM593 189h2v1h-2zM595 188h2v1h-2zM597 187h1v1h-1zM598 186h2v1h-2zM600 185h2v1h-2zM602 184h1v1h-1zM603 183h2v1h-2zM605 182h2v1h-2zM607 181h1v1h-1zM608 180h2v1h-2zM610 179h2v1h-2zM612 178h1v1h-1zM613 177h2v1h-2zM615 176h2v1h-2zM617 175h1v1h-1zM618 174h2v1h-2zM620 173h1v1h-1zM621 172h2v1h-2zM623 171h2v1h-2zM625 170h1v1h-1zM626 169h2v1h-2zM628 168h2v1h-2zM630 167h1v1h-1zM631 166h2v1h-2zM633 165h2v1h-2zM635 164h1v1h-1zM636 163h2v1h-2zM638 162h2v1h-2zM640 161h1v1h-1zM641 160h2v1h-2zM643 159h1v1h-1zM644 158h2v1h-2zM646 157h2v1h-2zM648 156h1v1h-1zM649 155h2v1h-2zM651 154h2v1h-2zM653 153h1v1h-1zM654 152h2v1h-2zM656 151h2v1h-2zM658 150h1v1h-1zM659 149h2v1h-2zM661 148h2v1h-2zM663 147h1v1h-1zM664 146h2v1h-2zM666 145h1v1h-1zM667 144h2v1h-2zM669 143h2v1h-2zM671 142h1v1h-1zM672 141h2v1h-2zM674 140h2v1h-2zM676 139h1v1h-1zM677 138h2v1h-2zM679 137h2v1h-2zM681 136h1v1h-1zM682 135h2v1h-2zM684 134h2v1h-2zM686 133h1v1h-1zM687 132h2v1h-2zM689 131h2v1h-2zM691 130h1v1h-1zM692 129h2v1h-2zM694 128h1v1h-1zM695 127h2v1h-2zM697 126h2v1h-2zM699 125h1v1h-1zM700 124h2v1h-2zM702 123h2v1h-2zM704 122h1v1h-1zM705 121h2v1h-2zM707 120h2v1h-2zM709 119h1v1h-1zM710 118h2v1h-2zM712 117h2v1h-2zM714 116h1v1h-1zM715 115h2v1h-2zM717 114h1v1h-1zM718 113h2v1h-2zM720 112h2v1h-2zM722 111h1v1h-1zM723 110h2v1h-2zM725 109h2v1h-2zM727 108h1v1h-1zM728 107h2v1h-2zM730 106h2v1h-2zM732 105h1v1h-1zM733 104h2v1h-2zM735 103h2v1h-2zM737 102h1v1h-1zM738 101h2v1h-2zM740 100h1v1h-1zM741 99h2v1h-2zM743 98h2v1h-2zM745 97h1v1h-1zM746 96h2v1h-2zM748 95h2v1h-2zM750 94h1v1h-1zM751 93h2v1h-2zM753 92h2v1h-2zM755 91h1v1h-1zM756 90h2v1h-2zM758 89h2v1h-2zM760 88h1v1h-1zM761 87h2v1h-2zM763 86h1v1h-1zM764 85h2v1h-2zM766 84h2v1h-2zM768 83h1v1h-1zM769 82h2v1h-2zM771 81h2v1h-2zM773 80h1v1h-1zM774 79h2v1h-2zM776 78h2v1h-2zM778 77h1v1h-1zM779 76h2v1h-2zM781 75h2v1h-2zM783 74h1v1h-1z" fill="#b41e22"/></g><g shape-rendering="crispEdges"><rect x="425" y="70" width="4" height="351" fill="#000"/><rect x="426" y="71" width="2" height="349" fill="#fff"/><rect x="426" y="74" width="2" height="3" fill="#22cc44"/><rect x="426" y="82" width="2" height="3" fill="#22cc44"/><rect x="426" y="90" width="2" height="3" fill="#22cc44"/><rect x="426" y="98" width="2" height="3" fill="#22cc44"/><rect x="426" y="106" width="2" height="3" fill="#22cc44"/><rect x="426" y="114" width="2" height="3" fill="#22cc44"/><rect x="426" y="122" width="2" height="3" fill="#22cc44"/><rect x="426" y="130" width="2" height="3" fill="#22cc44"/><rect x="426" y="138" width="2" height="3" fill="#22cc44"/><rect x="426" y="146" width="2" height="3" fill="#22cc44"/><rect x="426" y="154" width="2" height="3" fill="#22cc44"/><rect x="426" y="162" width="2" height="3" fill="#22cc44"/><rect x="426" y="170" width="2" height="3" fill="#22cc44"/><rect x="426" y="178" width="2" height="3" fill="#22cc44"/><rect x="426" y="186" width="2" height="3" fill="#22cc44"/><rect x="426" y="194" width="2" height="3" fill="#22cc44"/><rect x="426" y="202" width="2" height="3" fill="#22cc44"/><rect x="426" y="210" width="2" height="3" fill="#22cc44"/><rect x="426" y="218" width="2" height="3" fill="#22cc44"/><rect x="426" y="226" width="2" height="3" fill="#22cc44"/><rect x="426" y="234" width="2" height="3" fill="#22cc44"/><rect x="426" y="242" width="2" height="3" fill="#22cc44"/><rect x="426" y="250" width="2" height="3" fill="#22cc44"/><rect x="426" y="258" width="2" height="3" fill="#22cc44"/><rect x="426" y="266" width="2" height="3" fill="#22cc44"/><rect x="426" y="274" width="2" height="3" fill="#22cc44"/><rect x="426" y="282" width="2" height="3" fill="#22cc44"/><rect x="426" y="290" width="2" height="3" fill="#22cc44"/><rect x="426" y="298" width="2" height="3" fill="#22cc44"/><rect x="426" y="306" width="2" height="3" fill="#22cc44"/><rect x="426" y="314" width="2" height="3" fill="#22cc44"/><rect x="426" y="322" width="2" height="3" fill="#22cc44"/><rect x="426" y="330" width="2" height="3" fill="#22cc44"/><rect x="426" y="338" width="2" height="3" fill="#22cc44"/><rect x="426" y="346" width="2" height="3" fill="#22cc44"/><rect x="426" y="354" width="2" height="3" fill="#22cc44"/><rect x="426" y="362" width="2" height="3" fill="#22cc44"/><rect x="426" y="370" width="2" height="3" fill="#22cc44"/><rect x="426" y="378" width="2" height="3" fill="#22cc44"/><rect x="426" y="386" width="2" height="3" fill="#22cc44"/><rect x="426" y="394" width="2" height="3" fill="#22cc44"/><rect x="426" y="402" width="2" height="3" fill="#22cc44"/><rect x="426" y="410" width="2" height="3" fill="#22cc44"/><rect x="426" y="418" width="2" height="2" fill="#22cc44"/></g><circle cx="374" cy="322" r="2.7" fill="#f2e21a" stroke="#000" stroke-width="1"/></svg>
<div style="position:absolute;left:-1.5px;width:400px;text-align:center;top:68.69px;font:11px 'Liberation Sans', sans-serif;line-height:11px;color:#000;letter-spacing:0px;white-space:nowrap;transform:scaleY(1.1);transform-origin:0 9.31px;">350</div>
<div style="position:absolute;left:-1.5px;width:400px;text-align:center;top:119.69px;font:11px 'Liberation Sans', sans-serif;line-height:11px;color:#000;letter-spacing:0px;white-space:nowrap;transform:scaleY(1.1);transform-origin:0 9.31px;">300</div>
<div style="position:absolute;left:-1.5px;width:400px;text-align:center;top:168.69px;font:11px 'Liberation Sans', sans-serif;line-height:11px;color:#000;letter-spacing:0px;white-space:nowrap;transform:scaleY(1.1);transform-origin:0 9.31px;">250</div>
<div style="position:absolute;left:-1.5px;width:400px;text-align:center;top:217.69px;font:11px 'Liberation Sans', sans-serif;line-height:11px;color:#000;letter-spacing:0px;white-space:nowrap;transform:scaleY(1.1);transform-origin:0 9.31px;">200</div>
<div style="position:absolute;left:-1.5px;width:400px;text-align:center;top:269.69px;font:11px 'Liberation Sans', sans-serif;line-height:11px;color:#000;letter-spacing:0px;white-space:nowrap;transform:scaleY(1.1);transform-origin:0 9.31px;">150</div>
<div style="position:absolute;left:-1.5px;width:400px;text-align:center;top:317.69px;font:11px 'Liberation Sans', sans-serif;line-height:11px;color:#000;letter-spacing:0px;white-space:nowrap;transform:scaleY(1.1);transform-origin:0 9.31px;">100</div>
<div style="position:absolute;left:-1.5px;width:400px;text-align:center;top:367.69px;font:11px 'Liberation Sans', sans-serif;line-height:11px;color:#000;letter-spacing:0px;white-space:nowrap;transform:scaleY(1.1);transform-origin:0 9.31px;">50</div>
<div style="position:absolute;left:0.30000000000001137px;width:400px;text-align:center;top:415.69px;font:11px 'Liberation Sans', sans-serif;line-height:11px;color:#000;letter-spacing:0px;white-space:nowrap;transform:scaleY(1.1);transform-origin:0 9.31px;">0</div>
<div style="position:absolute;left:14.5px;width:400px;text-align:center;top:429.29px;font:11px 'Liberation Sans', sans-serif;line-height:11px;color:#000;letter-spacing:0px;white-space:nowrap;transform:scaleY(1.1);transform-origin:0 9.31px;">0</div>
<div style="position:absolute;left:50.125px;width:400px;text-align:center;top:429.29px;font:11px 'Liberation Sans', sans-serif;line-height:11px;color:#000;letter-spacing:0px;white-space:nowrap;transform:scaleY(1.1);transform-origin:0 9.31px;">1</div>
<div style="position:absolute;left:85.75px;width:400px;text-align:center;top:429.29px;font:11px 'Liberation Sans', sans-serif;line-height:11px;color:#000;letter-spacing:0px;white-space:nowrap;transform:scaleY(1.1);transform-origin:0 9.31px;">2</div>
<div style="position:absolute;left:121.375px;width:400px;text-align:center;top:429.29px;font:11px 'Liberation Sans', sans-serif;line-height:11px;color:#000;letter-spacing:0px;white-space:nowrap;transform:scaleY(1.1);transform-origin:0 9.31px;">3</div>
<div style="position:absolute;left:157.0px;width:400px;text-align:center;top:429.29px;font:11px 'Liberation Sans', sans-serif;line-height:11px;color:#000;letter-spacing:0px;white-space:nowrap;transform:scaleY(1.1);transform-origin:0 9.31px;">4</div>
<div style="position:absolute;left:192.625px;width:400px;text-align:center;top:429.29px;font:11px 'Liberation Sans', sans-serif;line-height:11px;color:#000;letter-spacing:0px;white-space:nowrap;transform:scaleY(1.1);transform-origin:0 9.31px;">5</div>
<div style="position:absolute;left:228.25px;width:400px;text-align:center;top:429.29px;font:11px 'Liberation Sans', sans-serif;line-height:11px;color:#000;letter-spacing:0px;white-space:nowrap;transform:scaleY(1.1);transform-origin:0 9.31px;">6</div>
<div style="position:absolute;left:263.875px;width:400px;text-align:center;top:429.29px;font:11px 'Liberation Sans', sans-serif;line-height:11px;color:#000;letter-spacing:0px;white-space:nowrap;transform:scaleY(1.1);transform-origin:0 9.31px;">7</div>
<div style="position:absolute;left:299.5px;width:400px;text-align:center;top:429.29px;font:11px 'Liberation Sans', sans-serif;line-height:11px;color:#000;letter-spacing:0px;white-space:nowrap;transform:scaleY(1.1);transform-origin:0 9.31px;">8</div>
<div style="position:absolute;left:335.125px;width:400px;text-align:center;top:429.29px;font:11px 'Liberation Sans', sans-serif;line-height:11px;color:#000;letter-spacing:0px;white-space:nowrap;transform:scaleY(1.1);transform-origin:0 9.31px;">9</div>
<div style="position:absolute;left:370.75px;width:400px;text-align:center;top:429.29px;font:11px 'Liberation Sans', sans-serif;line-height:11px;color:#000;letter-spacing:0px;white-space:nowrap;transform:scaleY(1.1);transform-origin:0 9.31px;">10</div>
<div style="position:absolute;left:406.375px;width:400px;text-align:center;top:429.29px;font:11px 'Liberation Sans', sans-serif;line-height:11px;color:#000;letter-spacing:0px;white-space:nowrap;transform:scaleY(1.1);transform-origin:0 9.31px;">11</div>
<div style="position:absolute;left:442.0px;width:400px;text-align:center;top:429.29px;font:11px 'Liberation Sans', sans-serif;line-height:11px;color:#000;letter-spacing:0px;white-space:nowrap;transform:scaleY(1.1);transform-origin:0 9.31px;">12</div>
<div style="position:absolute;left:477.625px;width:400px;text-align:center;top:429.29px;font:11px 'Liberation Sans', sans-serif;line-height:11px;color:#000;letter-spacing:0px;white-space:nowrap;transform:scaleY(1.1);transform-origin:0 9.31px;">13</div>
<div style="position:absolute;left:513.25px;width:400px;text-align:center;top:429.29px;font:11px 'Liberation Sans', sans-serif;line-height:11px;color:#000;letter-spacing:0px;white-space:nowrap;transform:scaleY(1.1);transform-origin:0 9.31px;">14</div>
<div style="position:absolute;left:548.875px;width:400px;text-align:center;top:429.29px;font:11px 'Liberation Sans', sans-serif;line-height:11px;color:#000;letter-spacing:0px;white-space:nowrap;transform:scaleY(1.1);transform-origin:0 9.31px;">15</div>
<div style="position:absolute;left:584.5px;width:400px;text-align:center;top:429.29px;font:11px 'Liberation Sans', sans-serif;line-height:11px;color:#000;letter-spacing:0px;white-space:nowrap;transform:scaleY(1.1);transform-origin:0 9.31px;">16</div>
<div style="position:absolute;left:600px;top:430px;width:190px;height:30px;overflow:hidden">
<div style="position:absolute;left:99.5px;top:7.80px;font:bold 12px 'Liberation Sans', sans-serif;line-height:14px;letter-spacing:0.05px;white-space:nowrap;text-decoration:underline">Drehzahl x 1000</div>
</div>
<div style="position:absolute;left:211px;top:454px;width:105px;height:57px;background:#f0f0f0;box-sizing:border-box;border-top:1px solid #fff;border-left:1px solid #fff;border-bottom:1px solid #a0a0a0;border-right:1px solid #a0a0a0"></div>
<div style="position:absolute;left:227px;top:470px;width:73px;height:25px;background:#000"></div>
<div style="position:absolute;left:228px;top:471px;width:71px;height:23px;background:#f0f0f0;box-sizing:border-box;border-top:1px solid #fff;border-left:1px solid #fff;border-bottom:1px solid #696969;border-right:1px solid #696969;box-shadow:inset -1px -1px 0 #a0a0a0"></div>
<div style="position:absolute;left:232.5px;top:475.84px;font:bold 12px 'Liberation Sans', sans-serif;line-height:12px;color:#000;letter-spacing:0px;white-space:nowrap;"><u>B</u>erechnen</div>
<div style="position:absolute;left:324px;top:454px;width:466px;height:57px;background:#f0f0f0;box-sizing:border-box;border-top:1px solid #fff;border-left:1px solid #fff;border-bottom:1px solid #a0a0a0;border-right:1px solid #a0a0a0"></div>
<div style="position:absolute;right:273px;top:465.49px;font:11px 'Liberation Sans', sans-serif;line-height:11px;color:#000;letter-spacing:-0.08px;white-space:nowrap;transform:scaleY(1.1);transform-origin:0 9.31px;">Schaltmarke / Nenndrehzahl anzeigen</div>
<div style="position:absolute;left:535px;top:464px;width:13px;height:13px;background:#fff;box-sizing:border-box;border-top:1px solid #a0a0a0;border-left:1px solid #a0a0a0;border-bottom:1px solid #fff;border-right:1px solid #fff;box-shadow:inset 1px 1px 0 #696969,inset -1px -1px 0 #e3e3e3"></div>
<svg style="position:absolute;left:538px;top:467px" width="7" height="7" fill="#000" shape-rendering="crispEdges"><rect x="6" y="0" width="1" height="1"/><rect x="5" y="1" width="1" height="1"/><rect x="6" y="1" width="1" height="1"/><rect x="0" y="2" width="1" height="1"/><rect x="4" y="2" width="1" height="1"/><rect x="5" y="2" width="1" height="1"/><rect x="6" y="2" width="1" height="1"/><rect x="0" y="3" width="1" height="1"/><rect x="1" y="3" width="1" height="1"/><rect x="3" y="3" width="1" height="1"/><rect x="4" y="3" width="1" height="1"/><rect x="5" y="3" width="1" height="1"/><rect x="0" y="4" width="1" height="1"/><rect x="1" y="4" width="1" height="1"/><rect x="2" y="4" width="1" height="1"/><rect x="3" y="4" width="1" height="1"/><rect x="4" y="4" width="1" height="1"/><rect x="1" y="5" width="1" height="1"/><rect x="2" y="5" width="1" height="1"/><rect x="3" y="5" width="1" height="1"/><rect x="2" y="6" width="1" height="1"/></svg>
<div style="position:absolute;left:563px;top:465.19px;font:11px 'Liberation Sans', sans-serif;line-height:11px;color:#000;letter-spacing:-0.15px;white-space:nowrap;transform:scaleY(1.1);transform-origin:0 9.31px;">bei</div>
<div style="position:absolute;left:595px;top:462px;width:40px;height:19px;background:#fff;box-sizing:border-box;border-top:1px solid #a0a0a0;border-left:1px solid #a0a0a0;border-bottom:1px solid #fff;border-right:1px solid #fff;box-shadow:inset 1px 1px 0 #696969,inset -1px -1px 0 #e3e3e3"></div>
<div style="position:absolute;left:598.5px;top:466.49px;font:11px 'Liberation Sans', sans-serif;line-height:11px;color:#000;letter-spacing:-0.15px;white-space:nowrap;transform:scaleY(1.1);transform-origin:0 9.31px;">6000</div>
<div style="position:absolute;left:636px;top:462px;width:16px;height:10px;background:#f0f0f0;box-sizing:border-box;border-top:1px solid #fff;border-left:1px solid #fff;border-bottom:1px solid #696969;border-right:1px solid #696969;box-shadow:inset -1px -1px 0 #a0a0a0"></div>
<div style="position:absolute;left:636px;top:472px;width:16px;height:10px;background:#f0f0f0;box-sizing:border-box;border-top:1px solid #fff;border-left:1px solid #fff;border-bottom:1px solid #696969;border-right:1px solid #696969;box-shadow:inset -1px -1px 0 #a0a0a0"></div>
<svg style="position:absolute;left:642px;top:466px" width="3" height="2" shape-rendering="crispEdges"><path d="M1 0h1v1h1v1H0V1h1z" fill="#000"/></svg>
<svg style="position:absolute;left:642px;top:476px" width="3" height="2" shape-rendering="crispEdges"><path d="M0 0h3v1h-1v1H1V1H0z" fill="#000"/></svg>
<div style="position:absolute;right:273px;top:488.69px;font:11px 'Liberation Sans', sans-serif;line-height:11px;color:#000;letter-spacing:-0.15px;white-space:nowrap;transform:scaleY(1.1);transform-origin:0 9.31px;">Roter Bereich anzeigen</div>
<div style="position:absolute;left:535px;top:487px;width:13px;height:13px;background:#fff;box-sizing:border-box;border-top:1px solid #a0a0a0;border-left:1px solid #a0a0a0;border-bottom:1px solid #fff;border-right:1px solid #fff;box-shadow:inset 1px 1px 0 #696969,inset -1px -1px 0 #e3e3e3"></div>
<svg style="position:absolute;left:538px;top:490px" width="7" height="7" fill="#000" shape-rendering="crispEdges"><rect x="6" y="0" width="1" height="1"/><rect x="5" y="1" width="1" height="1"/><rect x="6" y="1" width="1" height="1"/><rect x="0" y="2" width="1" height="1"/><rect x="4" y="2" width="1" height="1"/><rect x="5" y="2" width="1" height="1"/><rect x="6" y="2" width="1" height="1"/><rect x="0" y="3" width="1" height="1"/><rect x="1" y="3" width="1" height="1"/><rect x="3" y="3" width="1" height="1"/><rect x="4" y="3" width="1" height="1"/><rect x="5" y="3" width="1" height="1"/><rect x="0" y="4" width="1" height="1"/><rect x="1" y="4" width="1" height="1"/><rect x="2" y="4" width="1" height="1"/><rect x="3" y="4" width="1" height="1"/><rect x="4" y="4" width="1" height="1"/><rect x="1" y="5" width="1" height="1"/><rect x="2" y="5" width="1" height="1"/><rect x="3" y="5" width="1" height="1"/><rect x="2" y="6" width="1" height="1"/></svg>
<div style="position:absolute;left:563px;top:488.39px;font:11px 'Liberation Sans', sans-serif;line-height:11px;color:#000;letter-spacing:-0.15px;white-space:nowrap;transform:scaleY(1.1);transform-origin:0 9.31px;">ab</div>
<div style="position:absolute;left:595px;top:484px;width:40px;height:20px;background:#fff;box-sizing:border-box;border-top:1px solid #a0a0a0;border-left:1px solid #a0a0a0;border-bottom:1px solid #fff;border-right:1px solid #fff;box-shadow:inset 1px 1px 0 #696969,inset -1px -1px 0 #e3e3e3"></div>
<div style="position:absolute;left:598.5px;top:489.19px;font:11px 'Liberation Sans', sans-serif;line-height:11px;color:#000;letter-spacing:-0.15px;white-space:nowrap;transform:scaleY(1.1);transform-origin:0 9.31px;">12000</div>
<div style="position:absolute;left:636px;top:484px;width:16px;height:10px;background:#f0f0f0;box-sizing:border-box;border-top:1px solid #fff;border-left:1px solid #fff;border-bottom:1px solid #696969;border-right:1px solid #696969;box-shadow:inset -1px -1px 0 #a0a0a0"></div>
<div style="position:absolute;left:636px;top:494px;width:16px;height:11px;background:#f0f0f0;box-sizing:border-box;border-top:1px solid #fff;border-left:1px solid #fff;border-bottom:1px solid #696969;border-right:1px solid #696969;box-shadow:inset -1px -1px 0 #a0a0a0"></div>
<svg style="position:absolute;left:642px;top:488px" width="3" height="2" shape-rendering="crispEdges"><path d="M1 0h1v1h1v1H0V1h1z" fill="#000"/></svg>
<svg style="position:absolute;left:642px;top:498px" width="3" height="2" shape-rendering="crispEdges"><path d="M0 0h3v1h-1v1H1V1H0z" fill="#000"/></svg>
<div style="position:absolute;left:211px;top:518px;width:580px;height:73px;background:#f0f0f0;box-sizing:border-box;border-top:1px solid #fff;border-left:1px solid #fff;border-bottom:1px solid #a0a0a0;border-right:1px solid #a0a0a0"></div>
<div style="position:absolute;left:220px;top:527.19px;font:11px 'Liberation Sans', sans-serif;line-height:11px;color:#000;letter-spacing:-0.15px;white-space:nowrap;transform:scaleY(1.1);transform-origin:0 9.31px;">Gib in dieses Feld einen Namen od. Bezeichnung ein. Der Text erscheint auf dem Ausdruck.</div>
<div style="position:absolute;left:219px;top:542px;width:432px;height:20px;background:#fff;box-sizing:border-box;border-top:1px solid #a0a0a0;border-left:1px solid #a0a0a0;border-bottom:1px solid #fff;border-right:1px solid #fff;box-shadow:inset 1px 1px 0 #696969,inset -1px -1px 0 #e3e3e3"></div>
<div style="position:absolute;left:222.5px;top:546.69px;font:11px 'Liberation Sans', sans-serif;line-height:11px;color:#000;letter-spacing:-0.15px;white-space:nowrap;transform:scaleY(1.1);transform-origin:0 9.31px;">S1000XR</div>
<div style="position:absolute;left:331px;top:567.19px;font:11px 'Liberation Sans', sans-serif;line-height:11px;color:#000;letter-spacing:-0.15px;white-space:nowrap;transform:scaleY(1.1);transform-origin:0 9.31px;">(max. 70 Zeichen)</div>
<div style="position:absolute;left:721px;top:526px;width:64px;height:16px;background:#f0f0f0;box-sizing:border-box;border-top:1px solid #a0a0a0;border-left:1px solid #a0a0a0;border-bottom:1px solid #fff;border-right:1px solid #fff"></div>
<div style="position:absolute;left:553px;width:400px;text-align:center;top:528.84px;font:12px 'Liberation Sans', sans-serif;line-height:12px;color:#101080;letter-spacing:-0.2px;white-space:nowrap;">12:35:28</div>
<div style="position:absolute;left:721px;top:550px;width:64px;height:16px;background:#f0f0f0;box-sizing:border-box;border-top:1px solid #a0a0a0;border-left:1px solid #a0a0a0;border-bottom:1px solid #fff;border-right:1px solid #fff"></div>
<div style="position:absolute;left:553px;width:400px;text-align:center;top:552.84px;font:12px 'Liberation Sans', sans-serif;line-height:12px;color:#101080;letter-spacing:-0.55px;white-space:nowrap;">15.07.2021</div>
</body></html>
